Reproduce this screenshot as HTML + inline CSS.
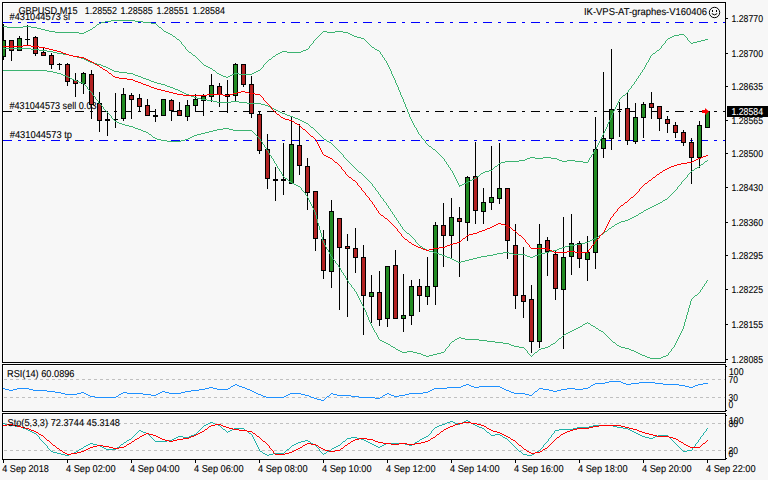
<!DOCTYPE html>
<html><head><meta charset="utf-8"><title>GBPUSD,M15</title>
<style>html,body{margin:0;padding:0;background:#f7f7f7;overflow:hidden;width:768px;height:480px}</style>
</head><body>
<svg width="768" height="480" viewBox="0 0 768 480" style="display:block">
<rect x="0" y="0" width="768" height="480" fill="#f7f7f7"/>
<g shape-rendering="crispEdges">
<rect x="3" y="3" width="722" height="359" fill="#ffffff"/>
<rect x="4" y="4" width="721" height="358" fill="#f7f7f7"/>
<rect x="3" y="365" width="722" height="46" fill="#ffffff"/>
<rect x="4" y="366" width="721" height="45" fill="#f7f7f7"/>
<rect x="3" y="414" width="722" height="45" fill="#ffffff"/>
<rect x="4" y="415" width="721" height="44" fill="#f7f7f7"/>
</g>
<g shape-rendering="crispEdges" stroke="#c0c0c0" stroke-width="1" stroke-dasharray="3 3">
<line x1="4" y1="379.5" x2="725" y2="379.5"/>
<line x1="4" y1="397.5" x2="725" y2="397.5"/>
<line x1="4" y1="423.5" x2="725" y2="423.5"/>
<line x1="4" y1="450.5" x2="725" y2="450.5"/>
</g>
<text x="18.4" y="14" font-size="10" fill="#000" stroke="#000" stroke-width="0.1" font-family="&#39;Liberation Sans&#39;, sans-serif" text-rendering="geometricPrecision" textLength="59.1" lengthAdjust="spacingAndGlyphs">GBPUSD,M15</text>
<text x="84.7" y="14" font-size="10" fill="#000" stroke="#000" stroke-width="0.1" font-family="&#39;Liberation Sans&#39;, sans-serif" text-rendering="geometricPrecision" textLength="32.4" lengthAdjust="spacingAndGlyphs">1.28552</text>
<text x="120.4" y="14" font-size="10" fill="#000" stroke="#000" stroke-width="0.1" font-family="&#39;Liberation Sans&#39;, sans-serif" text-rendering="geometricPrecision" textLength="32.4" lengthAdjust="spacingAndGlyphs">1.28585</text>
<text x="156.4" y="14" font-size="10" fill="#000" stroke="#000" stroke-width="0.1" font-family="&#39;Liberation Sans&#39;, sans-serif" text-rendering="geometricPrecision" textLength="32.4" lengthAdjust="spacingAndGlyphs">1.28551</text>
<text x="192.6" y="14" font-size="10" fill="#000" stroke="#000" stroke-width="0.1" font-family="&#39;Liberation Sans&#39;, sans-serif" text-rendering="geometricPrecision" textLength="32.4" lengthAdjust="spacingAndGlyphs">1.28584</text>
<text x="584" y="15" font-size="10" fill="#000" stroke="#000" stroke-width="0.1" font-family="&#39;Liberation Sans&#39;, sans-serif" text-rendering="geometricPrecision" textLength="123" lengthAdjust="spacingAndGlyphs">IK-VPS-AT-graphes-V160406</text>
<text x="9.5" y="20" font-size="10" fill="#000" stroke="#000" stroke-width="0.1" font-family="&#39;Liberation Sans&#39;, sans-serif" text-rendering="geometricPrecision" textLength="60.5" lengthAdjust="spacingAndGlyphs">#431044573 sl</text>
<text x="9.5" y="109" font-size="10" fill="#000" stroke="#000" stroke-width="0.1" font-family="&#39;Liberation Sans&#39;, sans-serif" text-rendering="geometricPrecision" textLength="87" lengthAdjust="spacingAndGlyphs">#431044573 sell 0.03</text>
<text x="9.75" y="138" font-size="10" fill="#000" stroke="#000" stroke-width="0.1" font-family="&#39;Liberation Sans&#39;, sans-serif" text-rendering="geometricPrecision" textLength="62.2" lengthAdjust="spacingAndGlyphs">#431044573 tp</text>
<g shape-rendering="crispEdges" stroke-width="1" stroke-dasharray="9 6 3 6" fill="none">
<line x1="3" y1="22.5" x2="725" y2="22.5" stroke="#0000ff"/>
<line x1="3" y1="111.5" x2="725" y2="111.5" stroke="#000000"/>
<line x1="3" y1="140.5" x2="725" y2="140.5" stroke="#0000ff"/>
</g>
<defs><clipPath id="cm"><rect x="3" y="3" width="722" height="359"/></clipPath><clipPath id="cr"><rect x="3" y="365" width="722" height="46"/></clipPath><clipPath id="cs"><rect x="3" y="414" width="722" height="45"/></clipPath></defs>
<g shape-rendering="crispEdges" clip-path="url(#cm)">
<rect x="3" y="24" width="1" height="36" fill="#000"/>
<rect x="1" y="40" width="5" height="17" fill="#000"/>
<rect x="2" y="41" width="3" height="15" fill="#228b22"/>
<rect x="11" y="40" width="1" height="21" fill="#000"/>
<rect x="9" y="40" width="5" height="11" fill="#000"/>
<rect x="10" y="41" width="3" height="9" fill="#b22222"/>
<rect x="19" y="36" width="1" height="15" fill="#000"/>
<rect x="17" y="38" width="5" height="13" fill="#000"/>
<rect x="18" y="39" width="3" height="11" fill="#228b22"/>
<rect x="27" y="25" width="1" height="21" fill="#000"/>
<rect x="25" y="39" width="5" height="1" fill="#000"/>
<rect x="35" y="36" width="1" height="20" fill="#000"/>
<rect x="33" y="37" width="5" height="17" fill="#000"/>
<rect x="34" y="38" width="3" height="15" fill="#b22222"/>
<rect x="43" y="48" width="1" height="8" fill="#000"/>
<rect x="41" y="52" width="5" height="4" fill="#000"/>
<rect x="42" y="53" width="3" height="2" fill="#b22222"/>
<rect x="51" y="53" width="1" height="16" fill="#000"/>
<rect x="49" y="55" width="5" height="10" fill="#000"/>
<rect x="50" y="56" width="3" height="8" fill="#b22222"/>
<rect x="59" y="63" width="1" height="7" fill="#000"/>
<rect x="57" y="64" width="5" height="1" fill="#000"/>
<rect x="67" y="63" width="1" height="23" fill="#000"/>
<rect x="65" y="64" width="5" height="18" fill="#000"/>
<rect x="66" y="65" width="3" height="16" fill="#b22222"/>
<rect x="75" y="73" width="1" height="24" fill="#000"/>
<rect x="73" y="80" width="5" height="4" fill="#000"/>
<rect x="74" y="81" width="3" height="2" fill="#b22222"/>
<rect x="83" y="72" width="1" height="22" fill="#000"/>
<rect x="81" y="73" width="5" height="11" fill="#000"/>
<rect x="82" y="74" width="3" height="9" fill="#228b22"/>
<rect x="91" y="70" width="1" height="49" fill="#000"/>
<rect x="89" y="74" width="5" height="31" fill="#000"/>
<rect x="90" y="75" width="3" height="29" fill="#b22222"/>
<rect x="99" y="92" width="1" height="40" fill="#000"/>
<rect x="97" y="103" width="5" height="18" fill="#000"/>
<rect x="98" y="104" width="3" height="16" fill="#b22222"/>
<rect x="107" y="111" width="1" height="25" fill="#000"/>
<rect x="105" y="119" width="5" height="2" fill="#000"/>
<rect x="115" y="93" width="1" height="35" fill="#000"/>
<rect x="113" y="119" width="5" height="1" fill="#000"/>
<rect x="123" y="88" width="1" height="33" fill="#000"/>
<rect x="121" y="94" width="5" height="25" fill="#000"/>
<rect x="122" y="95" width="3" height="23" fill="#228b22"/>
<rect x="131" y="93" width="1" height="26" fill="#000"/>
<rect x="129" y="95" width="5" height="5" fill="#000"/>
<rect x="130" y="96" width="3" height="3" fill="#b22222"/>
<rect x="139" y="94" width="1" height="18" fill="#000"/>
<rect x="137" y="98" width="5" height="9" fill="#000"/>
<rect x="138" y="99" width="3" height="7" fill="#b22222"/>
<rect x="147" y="99" width="1" height="17" fill="#000"/>
<rect x="145" y="105" width="5" height="11" fill="#000"/>
<rect x="146" y="106" width="3" height="9" fill="#b22222"/>
<rect x="155" y="109" width="1" height="13" fill="#000"/>
<rect x="153" y="115" width="5" height="2" fill="#000"/>
<rect x="163" y="99" width="1" height="17" fill="#000"/>
<rect x="161" y="99" width="5" height="17" fill="#000"/>
<rect x="162" y="100" width="3" height="15" fill="#228b22"/>
<rect x="171" y="99" width="1" height="22" fill="#000"/>
<rect x="169" y="100" width="5" height="11" fill="#000"/>
<rect x="170" y="101" width="3" height="9" fill="#b22222"/>
<rect x="179" y="102" width="1" height="14" fill="#000"/>
<rect x="177" y="110" width="5" height="6" fill="#000"/>
<rect x="178" y="111" width="3" height="4" fill="#b22222"/>
<rect x="187" y="100" width="1" height="21" fill="#000"/>
<rect x="185" y="105" width="5" height="12" fill="#000"/>
<rect x="186" y="106" width="3" height="10" fill="#228b22"/>
<rect x="195" y="94" width="1" height="18" fill="#000"/>
<rect x="193" y="99" width="5" height="7" fill="#000"/>
<rect x="194" y="100" width="3" height="5" fill="#228b22"/>
<rect x="203" y="94" width="1" height="22" fill="#000"/>
<rect x="201" y="96" width="5" height="5" fill="#000"/>
<rect x="202" y="97" width="3" height="3" fill="#228b22"/>
<rect x="211" y="74" width="1" height="28" fill="#000"/>
<rect x="209" y="85" width="5" height="12" fill="#000"/>
<rect x="210" y="86" width="3" height="10" fill="#228b22"/>
<rect x="219" y="83" width="1" height="24" fill="#000"/>
<rect x="217" y="86" width="5" height="9" fill="#000"/>
<rect x="218" y="87" width="3" height="7" fill="#b22222"/>
<rect x="227" y="80" width="1" height="33" fill="#000"/>
<rect x="225" y="94" width="5" height="3" fill="#000"/>
<rect x="226" y="95" width="3" height="1" fill="#b22222"/>
<rect x="235" y="63" width="1" height="38" fill="#000"/>
<rect x="233" y="64" width="5" height="32" fill="#000"/>
<rect x="234" y="65" width="3" height="30" fill="#228b22"/>
<rect x="243" y="64" width="1" height="23" fill="#000"/>
<rect x="241" y="64" width="5" height="21" fill="#000"/>
<rect x="242" y="65" width="3" height="19" fill="#b22222"/>
<rect x="251" y="76" width="1" height="42" fill="#000"/>
<rect x="249" y="84" width="5" height="30" fill="#000"/>
<rect x="250" y="85" width="3" height="28" fill="#b22222"/>
<rect x="259" y="111" width="1" height="43" fill="#000"/>
<rect x="257" y="114" width="5" height="37" fill="#000"/>
<rect x="258" y="115" width="3" height="35" fill="#b22222"/>
<rect x="267" y="134" width="1" height="55" fill="#000"/>
<rect x="265" y="149" width="5" height="30" fill="#000"/>
<rect x="266" y="150" width="3" height="28" fill="#b22222"/>
<rect x="275" y="167" width="1" height="34" fill="#000"/>
<rect x="273" y="179" width="5" height="2" fill="#000"/>
<rect x="283" y="143" width="1" height="52" fill="#000"/>
<rect x="281" y="179" width="5" height="2" fill="#000"/>
<rect x="291" y="117" width="1" height="67" fill="#000"/>
<rect x="289" y="144" width="5" height="40" fill="#000"/>
<rect x="290" y="145" width="3" height="38" fill="#228b22"/>
<rect x="299" y="124" width="1" height="51" fill="#000"/>
<rect x="297" y="145" width="5" height="21" fill="#000"/>
<rect x="298" y="146" width="3" height="19" fill="#b22222"/>
<rect x="307" y="158" width="1" height="52" fill="#000"/>
<rect x="305" y="166" width="5" height="27" fill="#000"/>
<rect x="306" y="167" width="3" height="25" fill="#b22222"/>
<rect x="315" y="191" width="1" height="60" fill="#000"/>
<rect x="313" y="191" width="5" height="48" fill="#000"/>
<rect x="314" y="192" width="3" height="46" fill="#b22222"/>
<rect x="323" y="230" width="1" height="49" fill="#000"/>
<rect x="321" y="239" width="5" height="32" fill="#000"/>
<rect x="322" y="240" width="3" height="30" fill="#b22222"/>
<rect x="331" y="200" width="1" height="88" fill="#000"/>
<rect x="329" y="211" width="5" height="61" fill="#000"/>
<rect x="330" y="212" width="3" height="59" fill="#228b22"/>
<rect x="339" y="218" width="1" height="92" fill="#000"/>
<rect x="337" y="218" width="5" height="30" fill="#000"/>
<rect x="338" y="219" width="3" height="28" fill="#b22222"/>
<rect x="347" y="234" width="1" height="83" fill="#000"/>
<rect x="345" y="246" width="5" height="3" fill="#000"/>
<rect x="346" y="247" width="3" height="1" fill="#b22222"/>
<rect x="355" y="228" width="1" height="45" fill="#000"/>
<rect x="353" y="248" width="5" height="10" fill="#000"/>
<rect x="354" y="249" width="3" height="8" fill="#b22222"/>
<rect x="363" y="245" width="1" height="90" fill="#000"/>
<rect x="361" y="257" width="5" height="39" fill="#000"/>
<rect x="362" y="258" width="3" height="37" fill="#b22222"/>
<rect x="371" y="275" width="1" height="48" fill="#000"/>
<rect x="369" y="292" width="5" height="5" fill="#000"/>
<rect x="370" y="293" width="3" height="3" fill="#228b22"/>
<rect x="379" y="271" width="1" height="55" fill="#000"/>
<rect x="377" y="292" width="5" height="28" fill="#000"/>
<rect x="378" y="293" width="3" height="26" fill="#b22222"/>
<rect x="387" y="266" width="1" height="61" fill="#000"/>
<rect x="385" y="266" width="5" height="53" fill="#000"/>
<rect x="386" y="267" width="3" height="51" fill="#228b22"/>
<rect x="395" y="250" width="1" height="69" fill="#000"/>
<rect x="393" y="265" width="5" height="54" fill="#000"/>
<rect x="394" y="266" width="3" height="52" fill="#b22222"/>
<rect x="403" y="274" width="1" height="58" fill="#000"/>
<rect x="401" y="315" width="5" height="4" fill="#000"/>
<rect x="402" y="316" width="3" height="2" fill="#228b22"/>
<rect x="411" y="280" width="1" height="45" fill="#000"/>
<rect x="409" y="286" width="5" height="30" fill="#000"/>
<rect x="410" y="287" width="3" height="28" fill="#228b22"/>
<rect x="419" y="279" width="1" height="33" fill="#000"/>
<rect x="417" y="286" width="5" height="10" fill="#000"/>
<rect x="418" y="287" width="3" height="8" fill="#b22222"/>
<rect x="427" y="257" width="1" height="48" fill="#000"/>
<rect x="425" y="286" width="5" height="11" fill="#000"/>
<rect x="426" y="287" width="3" height="9" fill="#228b22"/>
<rect x="435" y="222" width="1" height="83" fill="#000"/>
<rect x="433" y="225" width="5" height="62" fill="#000"/>
<rect x="434" y="226" width="3" height="60" fill="#228b22"/>
<rect x="443" y="203" width="1" height="64" fill="#000"/>
<rect x="441" y="225" width="5" height="11" fill="#000"/>
<rect x="442" y="226" width="3" height="9" fill="#b22222"/>
<rect x="451" y="198" width="1" height="61" fill="#000"/>
<rect x="449" y="217" width="5" height="19" fill="#000"/>
<rect x="450" y="218" width="3" height="17" fill="#228b22"/>
<rect x="459" y="207" width="1" height="70" fill="#000"/>
<rect x="457" y="218" width="5" height="4" fill="#000"/>
<rect x="458" y="219" width="3" height="2" fill="#b22222"/>
<rect x="467" y="176" width="1" height="65" fill="#000"/>
<rect x="465" y="177" width="5" height="46" fill="#000"/>
<rect x="466" y="178" width="3" height="44" fill="#228b22"/>
<rect x="475" y="142" width="1" height="82" fill="#000"/>
<rect x="473" y="176" width="5" height="35" fill="#000"/>
<rect x="474" y="177" width="3" height="33" fill="#b22222"/>
<rect x="483" y="188" width="1" height="36" fill="#000"/>
<rect x="481" y="202" width="5" height="10" fill="#000"/>
<rect x="482" y="203" width="3" height="8" fill="#228b22"/>
<rect x="491" y="146" width="1" height="64" fill="#000"/>
<rect x="489" y="197" width="5" height="6" fill="#000"/>
<rect x="490" y="198" width="3" height="4" fill="#228b22"/>
<rect x="499" y="143" width="1" height="61" fill="#000"/>
<rect x="497" y="188" width="5" height="11" fill="#000"/>
<rect x="498" y="189" width="3" height="9" fill="#228b22"/>
<rect x="507" y="188" width="1" height="71" fill="#000"/>
<rect x="505" y="188" width="5" height="53" fill="#000"/>
<rect x="506" y="189" width="3" height="51" fill="#b22222"/>
<rect x="515" y="224" width="1" height="85" fill="#000"/>
<rect x="513" y="245" width="5" height="51" fill="#000"/>
<rect x="514" y="246" width="3" height="49" fill="#b22222"/>
<rect x="523" y="247" width="1" height="71" fill="#000"/>
<rect x="521" y="295" width="5" height="7" fill="#000"/>
<rect x="522" y="296" width="3" height="5" fill="#b22222"/>
<rect x="531" y="285" width="1" height="68" fill="#000"/>
<rect x="529" y="299" width="5" height="43" fill="#000"/>
<rect x="530" y="300" width="3" height="41" fill="#b22222"/>
<rect x="539" y="224" width="1" height="124" fill="#000"/>
<rect x="537" y="244" width="5" height="98" fill="#000"/>
<rect x="538" y="245" width="3" height="96" fill="#228b22"/>
<rect x="547" y="237" width="1" height="39" fill="#000"/>
<rect x="545" y="240" width="5" height="12" fill="#000"/>
<rect x="546" y="241" width="3" height="10" fill="#b22222"/>
<rect x="555" y="250" width="1" height="50" fill="#000"/>
<rect x="553" y="254" width="5" height="35" fill="#000"/>
<rect x="554" y="255" width="3" height="33" fill="#b22222"/>
<rect x="563" y="217" width="1" height="132" fill="#000"/>
<rect x="561" y="257" width="5" height="33" fill="#000"/>
<rect x="562" y="258" width="3" height="31" fill="#228b22"/>
<rect x="571" y="214" width="1" height="61" fill="#000"/>
<rect x="569" y="243" width="5" height="14" fill="#000"/>
<rect x="570" y="244" width="3" height="12" fill="#228b22"/>
<rect x="579" y="241" width="1" height="27" fill="#000"/>
<rect x="577" y="243" width="5" height="16" fill="#000"/>
<rect x="578" y="244" width="3" height="14" fill="#b22222"/>
<rect x="587" y="236" width="1" height="45" fill="#000"/>
<rect x="585" y="252" width="5" height="8" fill="#000"/>
<rect x="586" y="253" width="3" height="6" fill="#228b22"/>
<rect x="595" y="117" width="1" height="152" fill="#000"/>
<rect x="593" y="149" width="5" height="104" fill="#000"/>
<rect x="594" y="150" width="3" height="102" fill="#228b22"/>
<rect x="603" y="72" width="1" height="86" fill="#000"/>
<rect x="601" y="138" width="5" height="11" fill="#000"/>
<rect x="602" y="139" width="3" height="9" fill="#228b22"/>
<rect x="611" y="49" width="1" height="101" fill="#000"/>
<rect x="609" y="109" width="5" height="30" fill="#000"/>
<rect x="610" y="110" width="3" height="28" fill="#228b22"/>
<rect x="619" y="102" width="1" height="35" fill="#000"/>
<rect x="617" y="109" width="5" height="1" fill="#000"/>
<rect x="627" y="93" width="1" height="52" fill="#000"/>
<rect x="625" y="108" width="5" height="33" fill="#000"/>
<rect x="626" y="109" width="3" height="31" fill="#b22222"/>
<rect x="635" y="103" width="1" height="41" fill="#000"/>
<rect x="633" y="117" width="5" height="25" fill="#000"/>
<rect x="634" y="118" width="3" height="23" fill="#228b22"/>
<rect x="643" y="102" width="1" height="36" fill="#000"/>
<rect x="641" y="104" width="5" height="14" fill="#000"/>
<rect x="642" y="105" width="3" height="12" fill="#228b22"/>
<rect x="651" y="92" width="1" height="27" fill="#000"/>
<rect x="649" y="103" width="5" height="5" fill="#000"/>
<rect x="650" y="104" width="3" height="3" fill="#b22222"/>
<rect x="659" y="106" width="1" height="25" fill="#000"/>
<rect x="657" y="106" width="5" height="13" fill="#000"/>
<rect x="658" y="107" width="3" height="11" fill="#b22222"/>
<rect x="667" y="116" width="1" height="17" fill="#000"/>
<rect x="665" y="119" width="5" height="5" fill="#000"/>
<rect x="666" y="120" width="3" height="3" fill="#b22222"/>
<rect x="675" y="122" width="1" height="16" fill="#000"/>
<rect x="673" y="125" width="5" height="8" fill="#000"/>
<rect x="674" y="126" width="3" height="6" fill="#b22222"/>
<rect x="683" y="130" width="1" height="16" fill="#000"/>
<rect x="681" y="132" width="5" height="11" fill="#000"/>
<rect x="682" y="133" width="3" height="9" fill="#b22222"/>
<rect x="691" y="138" width="1" height="46" fill="#000"/>
<rect x="689" y="142" width="5" height="16" fill="#000"/>
<rect x="690" y="143" width="3" height="14" fill="#b22222"/>
<rect x="699" y="121" width="1" height="47" fill="#000"/>
<rect x="697" y="125" width="5" height="33" fill="#000"/>
<rect x="698" y="126" width="3" height="31" fill="#228b22"/>
<rect x="707" y="111" width="1" height="17" fill="#000"/>
<rect x="705" y="111" width="5" height="17" fill="#000"/>
<rect x="706" y="112" width="3" height="15" fill="#228b22"/>
</g>
<g shape-rendering="crispEdges">
<g clip-path="url(#cm)">
<path d="M111 20h24v1h-24zM105 21h6v1h-6zM135 21h8v1h-8zM101 22h4v1h-4zM143 22h8v1h-8zM99 23h2v1h-2zM151 23h5v1h-5zM97 24h2v1h-2zM156 24h1v1h-1zM96 25h1v1h-1zM157 25h1v1h-1zM3 26h4v1h-4zM23 26h8v1h-8zM95 26h1v1h-1zM158 26h1v1h-1zM7 27h16v1h-16zM31 27h6v1h-6zM93 27h2v1h-2zM159 27h2v1h-2zM37 28h4v1h-4zM92 28h1v1h-1zM161 28h1v1h-1zM41 29h4v1h-4zM90 29h2v1h-2zM162 29h1v1h-1zM45 30h4v1h-4zM88 30h2v1h-2zM163 30h1v1h-1zM49 31h6v1h-6zM86 31h2v1h-2zM164 31h2v1h-2zM323 31h4v1h-4zM335 31h8v1h-8zM55 32h24v1h-24zM84 32h2v1h-2zM166 32h2v1h-2zM322 32h1v1h-1zM327 32h8v1h-8zM343 32h5v1h-5zM79 33h5v1h-5zM168 33h2v1h-2zM321 33h1v1h-1zM348 33h2v1h-2zM170 34h2v1h-2zM320 34h1v1h-1zM350 34h2v1h-2zM679 34h5v1h-5zM172 35h1v1h-1zM319 35h1v1h-1zM352 35h2v1h-2zM674 35h5v1h-5zM684 35h1v1h-1zM173 36h2v1h-2zM318 36h1v1h-1zM354 36h3v1h-3zM672 36h2v1h-2zM685 36h1v1h-1zM175 37h1v1h-1zM317 37h1v1h-1zM357 37h4v1h-4zM670 37h2v1h-2zM686 37h1v1h-1zM176 38h1v1h-1zM316 38h1v1h-1zM361 38h3v1h-3zM668 38h2v1h-2zM687 38h1v1h-1zM177 39h2v1h-2zM315 39h1v1h-1zM364 39h1v1h-1zM667 39h1v1h-1zM687 39h1v1h-1zM705 39h3v1h-3zM179 40h1v1h-1zM314 40h1v1h-1zM365 40h1v1h-1zM666 40h1v1h-1zM688 40h1v1h-1zM701 40h4v1h-4zM180 41h1v1h-1zM313 41h1v1h-1zM366 41h1v1h-1zM665 41h1v1h-1zM689 41h1v1h-1zM697 41h4v1h-4zM181 42h1v1h-1zM313 42h1v1h-1zM367 42h1v1h-1zM665 42h1v1h-1zM690 42h1v1h-1zM693 42h4v1h-4zM181 43h1v1h-1zM312 43h1v1h-1zM368 43h1v1h-1zM664 43h1v1h-1zM691 43h2v1h-2zM182 44h1v1h-1zM311 44h1v1h-1zM369 44h1v1h-1zM663 44h1v1h-1zM183 45h1v1h-1zM310 45h1v1h-1zM370 45h1v1h-1zM662 45h1v1h-1zM184 46h1v1h-1zM309 46h1v1h-1zM371 46h1v1h-1zM661 46h1v1h-1zM185 47h1v1h-1zM309 47h1v1h-1zM372 47h2v1h-2zM661 47h1v1h-1zM185 48h1v1h-1zM308 48h1v1h-1zM374 48h1v1h-1zM660 48h1v1h-1zM186 49h1v1h-1zM306 49h2v1h-2zM375 49h2v1h-2zM659 49h1v1h-1zM187 50h1v1h-1zM303 50h3v1h-3zM377 50h2v1h-2zM657 50h2v1h-2zM188 51h1v1h-1zM282 51h5v1h-5zM301 51h2v1h-2zM379 51h1v1h-1zM656 51h1v1h-1zM189 52h2v1h-2zM280 52h2v1h-2zM287 52h14v1h-14zM380 52h1v1h-1zM655 52h1v1h-1zM191 53h1v1h-1zM278 53h2v1h-2zM380 53h1v1h-1zM653 53h2v1h-2zM192 54h1v1h-1zM276 54h2v1h-2zM381 54h1v1h-1zM652 54h1v1h-1zM193 55h2v1h-2zM275 55h1v1h-1zM382 55h1v1h-1zM651 55h1v1h-1zM195 56h1v1h-1zM273 56h2v1h-2zM382 56h1v1h-1zM650 56h1v1h-1zM196 57h1v1h-1zM272 57h1v1h-1zM383 57h1v1h-1zM650 57h1v1h-1zM197 58h1v1h-1zM271 58h1v1h-1zM384 58h1v1h-1zM649 58h1v1h-1zM198 59h1v1h-1zM269 59h2v1h-2zM384 59h1v1h-1zM649 59h1v1h-1zM199 60h1v1h-1zM268 60h1v1h-1zM385 60h1v1h-1zM648 60h1v1h-1zM200 61h1v1h-1zM267 61h1v1h-1zM386 61h1v1h-1zM648 61h1v1h-1zM201 62h1v1h-1zM266 62h1v1h-1zM386 62h1v1h-1zM647 62h1v1h-1zM202 63h1v1h-1zM265 63h1v1h-1zM387 63h1v1h-1zM646 63h1v1h-1zM203 64h1v1h-1zM264 64h1v1h-1zM387 64h1v1h-1zM646 64h1v1h-1zM204 65h2v1h-2zM263 65h1v1h-1zM388 65h1v1h-1zM645 65h1v1h-1zM206 66h2v1h-2zM263 66h1v1h-1zM388 66h1v1h-1zM645 66h1v1h-1zM208 67h2v1h-2zM262 67h1v1h-1zM389 67h1v1h-1zM644 67h1v1h-1zM210 68h2v1h-2zM261 68h1v1h-1zM389 68h1v1h-1zM644 68h1v1h-1zM212 69h1v1h-1zM260 69h1v1h-1zM390 69h1v1h-1zM643 69h1v1h-1zM213 70h2v1h-2zM258 70h2v1h-2zM390 70h1v1h-1zM642 70h1v1h-1zM215 71h1v1h-1zM256 71h2v1h-2zM391 71h1v1h-1zM642 71h1v1h-1zM216 72h1v1h-1zM254 72h2v1h-2zM391 72h1v1h-1zM641 72h1v1h-1zM217 73h2v1h-2zM234 73h5v1h-5zM252 73h2v1h-2zM391 73h1v1h-1zM640 73h1v1h-1zM219 74h2v1h-2zM232 74h2v1h-2zM239 74h13v1h-13zM392 74h1v1h-1zM640 74h1v1h-1zM221 75h2v1h-2zM230 75h2v1h-2zM392 75h1v1h-1zM639 75h1v1h-1zM223 76h3v1h-3zM228 76h2v1h-2zM393 76h1v1h-1zM638 76h1v1h-1zM226 77h2v1h-2zM393 77h1v1h-1zM638 77h1v1h-1zM394 78h1v1h-1zM637 78h1v1h-1zM394 79h1v1h-1zM636 79h1v1h-1zM395 80h1v1h-1zM636 80h1v1h-1zM395 81h1v1h-1zM635 81h1v1h-1zM395 82h1v1h-1zM634 82h1v1h-1zM396 83h1v1h-1zM634 83h1v1h-1zM396 84h1v1h-1zM633 84h1v1h-1zM397 85h1v1h-1zM632 85h1v1h-1zM397 86h1v1h-1zM631 86h1v1h-1zM398 87h1v1h-1zM631 87h1v1h-1zM398 88h1v1h-1zM630 88h1v1h-1zM398 89h1v1h-1zM629 89h1v1h-1zM399 90h1v1h-1zM628 90h1v1h-1zM399 91h1v1h-1zM628 91h1v1h-1zM400 92h1v1h-1zM627 92h1v1h-1zM400 93h1v1h-1zM626 93h1v1h-1zM400 94h1v1h-1zM625 94h1v1h-1zM401 95h1v1h-1zM623 95h2v1h-2zM401 96h1v1h-1zM622 96h1v1h-1zM402 97h1v1h-1zM621 97h1v1h-1zM402 98h1v1h-1zM620 98h1v1h-1zM403 99h1v1h-1zM619 99h1v1h-1zM403 100h1v1h-1zM619 100h1v1h-1zM403 101h1v1h-1zM618 101h1v1h-1zM404 102h1v1h-1zM618 102h1v1h-1zM404 103h1v1h-1zM617 103h1v1h-1zM405 104h1v1h-1zM617 104h1v1h-1zM405 105h1v1h-1zM616 105h1v1h-1zM405 106h1v1h-1zM616 106h1v1h-1zM406 107h1v1h-1zM615 107h1v1h-1zM406 108h1v1h-1zM615 108h1v1h-1zM407 109h1v1h-1zM614 109h1v1h-1zM407 110h1v1h-1zM614 110h1v1h-1zM407 111h1v1h-1zM613 111h1v1h-1zM408 112h1v1h-1zM613 112h1v1h-1zM408 113h1v1h-1zM612 113h1v1h-1zM409 114h1v1h-1zM612 114h1v1h-1zM409 115h1v1h-1zM611 115h1v1h-1zM409 116h1v1h-1zM611 116h1v1h-1zM410 117h1v1h-1zM611 117h1v1h-1zM410 118h1v1h-1zM610 118h1v1h-1zM411 119h1v1h-1zM610 119h1v1h-1zM411 120h1v1h-1zM609 120h1v1h-1zM412 121h1v1h-1zM609 121h1v1h-1zM412 122h1v1h-1zM608 122h1v1h-1zM413 123h1v1h-1zM608 123h1v1h-1zM413 124h1v1h-1zM607 124h1v1h-1zM414 125h1v1h-1zM607 125h1v1h-1zM414 126h1v1h-1zM607 126h1v1h-1zM415 127h1v1h-1zM606 127h1v1h-1zM416 128h1v1h-1zM606 128h1v1h-1zM416 129h1v1h-1zM605 129h1v1h-1zM417 130h1v1h-1zM605 130h1v1h-1zM417 131h1v1h-1zM604 131h1v1h-1zM418 132h1v1h-1zM604 132h1v1h-1zM418 133h1v1h-1zM603 133h1v1h-1zM419 134h1v1h-1zM603 134h1v1h-1zM420 135h1v1h-1zM602 135h1v1h-1zM421 136h1v1h-1zM602 136h1v1h-1zM421 137h1v1h-1zM601 137h1v1h-1zM422 138h1v1h-1zM601 138h1v1h-1zM423 139h1v1h-1zM600 139h1v1h-1zM424 140h1v1h-1zM600 140h1v1h-1zM425 141h1v1h-1zM599 141h1v1h-1zM425 142h1v1h-1zM599 142h1v1h-1zM426 143h1v1h-1zM598 143h1v1h-1zM427 144h1v1h-1zM598 144h1v1h-1zM428 145h1v1h-1zM597 145h1v1h-1zM429 146h2v1h-2zM597 146h1v1h-1zM431 147h1v1h-1zM596 147h1v1h-1zM432 148h1v1h-1zM596 148h1v1h-1zM433 149h2v1h-2zM595 149h1v1h-1zM435 150h1v1h-1zM594 150h1v1h-1zM436 151h1v1h-1zM594 151h1v1h-1zM437 152h1v1h-1zM593 152h1v1h-1zM438 153h1v1h-1zM593 153h1v1h-1zM439 154h1v1h-1zM592 154h1v1h-1zM440 155h1v1h-1zM591 155h1v1h-1zM441 156h1v1h-1zM591 156h1v1h-1zM442 157h1v1h-1zM530 157h5v1h-5zM543 157h8v1h-8zM590 157h1v1h-1zM443 158h1v1h-1zM527 158h3v1h-3zM535 158h8v1h-8zM551 158h6v1h-6zM589 158h1v1h-1zM444 159h1v1h-1zM525 159h2v1h-2zM557 159h2v1h-2zM589 159h1v1h-1zM444 160h1v1h-1zM519 160h6v1h-6zM559 160h3v1h-3zM567 160h8v1h-8zM588 160h1v1h-1zM445 161h1v1h-1zM505 161h14v1h-14zM562 161h5v1h-5zM575 161h8v1h-8zM588 161h1v1h-1zM446 162h1v1h-1zM501 162h4v1h-4zM583 162h5v1h-5zM446 163h1v1h-1zM499 163h2v1h-2zM447 164h1v1h-1zM498 164h1v1h-1zM448 165h1v1h-1zM497 165h1v1h-1zM448 166h1v1h-1zM495 166h2v1h-2zM449 167h1v1h-1zM494 167h1v1h-1zM450 168h1v1h-1zM493 168h1v1h-1zM450 169h1v1h-1zM492 169h1v1h-1zM451 170h1v1h-1zM489 170h3v1h-3zM452 171h1v1h-1zM485 171h4v1h-4zM452 172h1v1h-1zM483 172h2v1h-2zM453 173h1v1h-1zM481 173h2v1h-2zM453 174h1v1h-1zM480 174h1v1h-1zM454 175h1v1h-1zM479 175h1v1h-1zM454 176h1v1h-1zM477 176h2v1h-2zM455 177h1v1h-1zM476 177h1v1h-1zM455 178h1v1h-1zM474 178h2v1h-2zM456 179h1v1h-1zM472 179h2v1h-2zM456 180h1v1h-1zM470 180h2v1h-2zM457 181h1v1h-1zM468 181h2v1h-2zM457 182h1v1h-1zM466 182h2v1h-2zM458 183h1v1h-1zM464 183h2v1h-2zM458 184h1v1h-1zM462 184h2v1h-2zM459 185h3v1h-3zM459 186h1v1h-1z" fill="#3cb371"/>
<path d="M3 48h28v1h-28zM31 49h8v1h-8zM39 50h8v1h-8zM47 51h6v1h-6zM53 52h4v1h-4zM57 53h6v1h-6zM63 54h6v1h-6zM69 55h4v1h-4zM73 56h4v1h-4zM77 57h4v1h-4zM81 58h3v1h-3zM84 59h2v1h-2zM86 60h2v1h-2zM88 61h2v1h-2zM90 62h3v1h-3zM93 63h4v1h-4zM97 64h4v1h-4zM101 65h2v1h-2zM103 66h3v1h-3zM106 67h2v1h-2zM108 68h2v1h-2zM110 69h2v1h-2zM112 70h2v1h-2zM114 71h5v1h-5zM119 72h8v1h-8zM127 73h6v1h-6zM133 74h2v1h-2zM135 75h3v1h-3zM138 76h3v1h-3zM141 77h2v1h-2zM143 78h3v1h-3zM146 79h3v1h-3zM149 80h2v1h-2zM151 81h3v1h-3zM154 82h3v1h-3zM157 83h4v1h-4zM161 84h4v1h-4zM165 85h2v1h-2zM167 86h3v1h-3zM170 87h3v1h-3zM173 88h2v1h-2zM175 89h3v1h-3zM178 90h2v1h-2zM180 91h2v1h-2zM182 92h2v1h-2zM184 93h2v1h-2zM186 94h3v1h-3zM189 95h2v1h-2zM191 96h3v1h-3zM194 97h3v1h-3zM197 98h4v1h-4zM201 99h6v1h-6zM207 100h6v1h-6zM213 101h4v1h-4zM231 101h8v1h-8zM217 102h14v1h-14zM239 102h8v1h-8zM247 103h14v1h-14zM261 104h4v1h-4zM265 105h3v1h-3zM268 106h2v1h-2zM270 107h2v1h-2zM272 108h2v1h-2zM274 109h2v1h-2zM276 110h2v1h-2zM278 111h2v1h-2zM280 112h2v1h-2zM282 113h3v1h-3zM285 114h2v1h-2zM287 115h3v1h-3zM290 116h3v1h-3zM293 117h2v1h-2zM295 118h3v1h-3zM298 119h2v1h-2zM300 120h2v1h-2zM302 121h2v1h-2zM304 122h2v1h-2zM306 123h2v1h-2zM308 124h1v1h-1zM309 125h1v1h-1zM310 126h1v1h-1zM311 127h2v1h-2zM313 128h1v1h-1zM314 129h1v1h-1zM315 130h1v1h-1zM316 131h1v1h-1zM317 132h1v1h-1zM318 133h1v1h-1zM319 134h1v1h-1zM320 135h1v1h-1zM321 136h1v1h-1zM322 137h1v1h-1zM323 138h1v1h-1zM324 139h2v1h-2zM326 140h1v1h-1zM327 141h2v1h-2zM329 142h2v1h-2zM331 143h1v1h-1zM332 144h1v1h-1zM333 145h1v1h-1zM334 146h1v1h-1zM335 147h1v1h-1zM336 148h1v1h-1zM337 149h1v1h-1zM338 150h1v1h-1zM339 151h1v1h-1zM340 152h1v1h-1zM341 153h1v1h-1zM342 154h1v1h-1zM343 155h1v1h-1zM343 156h1v1h-1zM344 157h1v1h-1zM345 158h1v1h-1zM346 159h1v1h-1zM347 160h1v1h-1zM707 160h1v1h-1zM348 161h1v1h-1zM705 161h2v1h-2zM349 162h1v1h-1zM704 162h1v1h-1zM350 163h1v1h-1zM703 163h1v1h-1zM351 164h1v1h-1zM701 164h2v1h-2zM352 165h1v1h-1zM700 165h1v1h-1zM353 166h1v1h-1zM699 166h1v1h-1zM354 167h1v1h-1zM697 167h2v1h-2zM355 168h1v1h-1zM695 168h2v1h-2zM356 169h1v1h-1zM694 169h1v1h-1zM357 170h1v1h-1zM692 170h2v1h-2zM358 171h1v1h-1zM691 171h1v1h-1zM359 172h2v1h-2zM690 172h1v1h-1zM361 173h1v1h-1zM689 173h1v1h-1zM362 174h1v1h-1zM688 174h1v1h-1zM363 175h1v1h-1zM687 175h1v1h-1zM364 176h1v1h-1zM687 176h1v1h-1zM365 177h1v1h-1zM686 177h1v1h-1zM366 178h1v1h-1zM685 178h1v1h-1zM367 179h1v1h-1zM684 179h1v1h-1zM368 180h1v1h-1zM683 180h1v1h-1zM369 181h1v1h-1zM682 181h1v1h-1zM370 182h1v1h-1zM681 182h1v1h-1zM371 183h1v1h-1zM681 183h1v1h-1zM372 184h1v1h-1zM680 184h1v1h-1zM372 185h1v1h-1zM679 185h1v1h-1zM373 186h1v1h-1zM678 186h1v1h-1zM374 187h1v1h-1zM677 187h1v1h-1zM375 188h1v1h-1zM677 188h1v1h-1zM375 189h1v1h-1zM676 189h1v1h-1zM376 190h1v1h-1zM675 190h1v1h-1zM377 191h1v1h-1zM674 191h1v1h-1zM378 192h1v1h-1zM673 192h1v1h-1zM378 193h1v1h-1zM672 193h1v1h-1zM379 194h1v1h-1zM671 194h1v1h-1zM380 195h1v1h-1zM670 195h1v1h-1zM380 196h1v1h-1zM669 196h1v1h-1zM381 197h1v1h-1zM668 197h1v1h-1zM382 198h1v1h-1zM667 198h1v1h-1zM383 199h1v1h-1zM665 199h2v1h-2zM383 200h1v1h-1zM663 200h2v1h-2zM384 201h1v1h-1zM662 201h1v1h-1zM385 202h1v1h-1zM660 202h2v1h-2zM386 203h1v1h-1zM658 203h2v1h-2zM386 204h1v1h-1zM656 204h2v1h-2zM387 205h1v1h-1zM654 205h2v1h-2zM388 206h1v1h-1zM652 206h2v1h-2zM388 207h1v1h-1zM650 207h2v1h-2zM389 208h1v1h-1zM648 208h2v1h-2zM390 209h1v1h-1zM646 209h2v1h-2zM390 210h1v1h-1zM644 210h2v1h-2zM391 211h1v1h-1zM643 211h1v1h-1zM392 212h1v1h-1zM641 212h2v1h-2zM392 213h1v1h-1zM639 213h2v1h-2zM393 214h1v1h-1zM638 214h1v1h-1zM394 215h1v1h-1zM636 215h2v1h-2zM394 216h1v1h-1zM634 216h2v1h-2zM395 217h1v1h-1zM632 217h2v1h-2zM396 218h1v1h-1zM630 218h2v1h-2zM396 219h1v1h-1zM628 219h2v1h-2zM397 220h1v1h-1zM625 220h3v1h-3zM398 221h1v1h-1zM621 221h4v1h-4zM398 222h1v1h-1zM619 222h2v1h-2zM399 223h1v1h-1zM617 223h2v1h-2zM400 224h1v1h-1zM615 224h2v1h-2zM400 225h1v1h-1zM614 225h1v1h-1zM401 226h1v1h-1zM612 226h2v1h-2zM402 227h1v1h-1zM611 227h1v1h-1zM402 228h1v1h-1zM609 228h2v1h-2zM403 229h1v1h-1zM608 229h1v1h-1zM404 230h1v1h-1zM607 230h1v1h-1zM405 231h1v1h-1zM605 231h2v1h-2zM406 232h1v1h-1zM604 232h1v1h-1zM407 233h2v1h-2zM603 233h1v1h-1zM409 234h1v1h-1zM601 234h2v1h-2zM410 235h1v1h-1zM599 235h2v1h-2zM411 236h1v1h-1zM598 236h1v1h-1zM412 237h1v1h-1zM596 237h2v1h-2zM413 238h1v1h-1zM594 238h2v1h-2zM414 239h1v1h-1zM592 239h2v1h-2zM415 240h1v1h-1zM590 240h2v1h-2zM415 241h1v1h-1zM588 241h2v1h-2zM416 242h1v1h-1zM585 242h3v1h-3zM417 243h1v1h-1zM581 243h4v1h-4zM418 244h1v1h-1zM575 244h6v1h-6zM419 245h1v1h-1zM569 245h6v1h-6zM420 246h2v1h-2zM565 246h4v1h-4zM422 247h1v1h-1zM562 247h3v1h-3zM423 248h2v1h-2zM559 248h3v1h-3zM425 249h2v1h-2zM557 249h2v1h-2zM427 250h2v1h-2zM553 250h4v1h-4zM429 251h4v1h-4zM549 251h4v1h-4zM433 252h4v1h-4zM503 252h6v1h-6zM545 252h4v1h-4zM437 253h2v1h-2zM497 253h6v1h-6zM509 253h4v1h-4zM541 253h4v1h-4zM439 254h3v1h-3zM493 254h4v1h-4zM513 254h12v1h-12zM538 254h3v1h-3zM442 255h3v1h-3zM487 255h6v1h-6zM525 255h2v1h-2zM535 255h3v1h-3zM445 256h2v1h-2zM481 256h6v1h-6zM527 256h3v1h-3zM533 256h2v1h-2zM447 257h3v1h-3zM477 257h4v1h-4zM530 257h3v1h-3zM450 258h2v1h-2zM473 258h4v1h-4zM452 259h2v1h-2zM469 259h4v1h-4zM454 260h2v1h-2zM465 260h4v1h-4zM456 261h2v1h-2zM461 261h4v1h-4zM458 262h3v1h-3z" fill="#3cb371"/>
<path d="M3 70h44v1h-44zM47 71h6v1h-6zM53 72h4v1h-4zM57 73h4v1h-4zM61 74h2v1h-2zM63 75h3v1h-3zM66 76h2v1h-2zM68 77h2v1h-2zM70 78h2v1h-2zM72 79h2v1h-2zM74 80h3v1h-3zM77 81h2v1h-2zM79 82h3v1h-3zM82 83h2v1h-2zM84 84h1v1h-1zM85 85h1v1h-1zM86 86h1v1h-1zM87 87h1v1h-1zM87 88h1v1h-1zM88 89h1v1h-1zM89 90h1v1h-1zM90 91h1v1h-1zM91 92h1v1h-1zM92 93h1v1h-1zM92 94h1v1h-1zM93 95h1v1h-1zM94 96h1v1h-1zM95 97h1v1h-1zM95 98h1v1h-1zM96 99h1v1h-1zM97 100h1v1h-1zM98 101h1v1h-1zM98 102h1v1h-1zM99 103h1v1h-1zM100 104h1v1h-1zM101 105h1v1h-1zM102 106h1v1h-1zM103 107h1v1h-1zM103 108h1v1h-1zM104 109h1v1h-1zM105 110h1v1h-1zM106 111h1v1h-1zM107 112h1v1h-1zM108 113h1v1h-1zM109 114h1v1h-1zM110 115h1v1h-1zM111 116h1v1h-1zM111 117h1v1h-1zM112 118h1v1h-1zM113 119h1v1h-1zM114 120h1v1h-1zM115 121h2v1h-2zM117 122h2v1h-2zM119 123h3v1h-3zM122 124h3v1h-3zM125 125h4v1h-4zM129 126h4v1h-4zM133 127h2v1h-2zM135 128h3v1h-3zM223 128h6v1h-6zM138 129h3v1h-3zM217 129h6v1h-6zM229 129h4v1h-4zM141 130h2v1h-2zM213 130h4v1h-4zM233 130h19v1h-19zM143 131h3v1h-3zM209 131h4v1h-4zM252 131h1v1h-1zM146 132h2v1h-2zM205 132h4v1h-4zM253 132h1v1h-1zM148 133h1v1h-1zM201 133h4v1h-4zM254 133h1v1h-1zM149 134h2v1h-2zM197 134h4v1h-4zM255 134h1v1h-1zM151 135h1v1h-1zM194 135h3v1h-3zM256 135h1v1h-1zM152 136h1v1h-1zM192 136h2v1h-2zM257 136h1v1h-1zM153 137h2v1h-2zM190 137h2v1h-2zM258 137h1v1h-1zM155 138h2v1h-2zM188 138h2v1h-2zM259 138h1v1h-1zM157 139h4v1h-4zM185 139h3v1h-3zM260 139h1v1h-1zM161 140h6v1h-6zM181 140h4v1h-4zM260 140h1v1h-1zM167 141h14v1h-14zM261 141h1v1h-1zM262 142h1v1h-1zM262 143h1v1h-1zM263 144h1v1h-1zM264 145h1v1h-1zM264 146h1v1h-1zM265 147h1v1h-1zM266 148h1v1h-1zM266 149h1v1h-1zM267 150h1v1h-1zM268 151h1v1h-1zM268 152h1v1h-1zM269 153h1v1h-1zM269 154h1v1h-1zM270 155h1v1h-1zM271 156h1v1h-1zM271 157h1v1h-1zM272 158h1v1h-1zM273 159h1v1h-1zM273 160h1v1h-1zM274 161h1v1h-1zM274 162h1v1h-1zM275 163h1v1h-1zM276 164h1v1h-1zM276 165h1v1h-1zM277 166h1v1h-1zM277 167h1v1h-1zM278 168h1v1h-1zM279 169h1v1h-1zM279 170h1v1h-1zM280 171h1v1h-1zM281 172h1v1h-1zM281 173h1v1h-1zM282 174h1v1h-1zM282 175h1v1h-1zM283 176h1v1h-1zM284 177h1v1h-1zM285 178h2v1h-2zM287 179h1v1h-1zM288 180h1v1h-1zM289 181h2v1h-2zM291 182h1v1h-1zM292 183h2v1h-2zM294 184h2v1h-2zM296 185h2v1h-2zM298 186h2v1h-2zM300 187h1v1h-1zM301 188h1v1h-1zM301 189h1v1h-1zM302 190h1v1h-1zM303 191h1v1h-1zM304 192h1v1h-1zM305 193h1v1h-1zM305 194h1v1h-1zM306 195h1v1h-1zM307 196h1v1h-1zM307 197h1v1h-1zM308 198h1v1h-1zM308 199h1v1h-1zM309 200h1v1h-1zM309 201h1v1h-1zM310 202h1v1h-1zM310 203h1v1h-1zM311 204h1v1h-1zM311 205h1v1h-1zM312 206h1v1h-1zM312 207h1v1h-1zM313 208h1v1h-1zM313 209h1v1h-1zM314 210h1v1h-1zM314 211h1v1h-1zM315 212h1v1h-1zM315 213h1v1h-1zM315 214h1v1h-1zM316 215h1v1h-1zM316 216h1v1h-1zM316 217h1v1h-1zM316 218h1v1h-1zM317 219h1v1h-1zM317 220h1v1h-1zM317 221h1v1h-1zM317 222h1v1h-1zM318 223h1v1h-1zM318 224h1v1h-1zM318 225h1v1h-1zM319 226h1v1h-1zM319 227h1v1h-1zM319 228h1v1h-1zM319 229h1v1h-1zM320 230h1v1h-1zM320 231h1v1h-1zM320 232h1v1h-1zM321 233h1v1h-1zM321 234h1v1h-1zM321 235h1v1h-1zM321 236h1v1h-1zM322 237h1v1h-1zM322 238h1v1h-1zM322 239h1v1h-1zM322 240h1v1h-1zM323 241h1v1h-1zM323 242h1v1h-1zM324 243h1v1h-1zM324 244h1v1h-1zM325 245h1v1h-1zM325 246h1v1h-1zM326 247h1v1h-1zM326 248h1v1h-1zM327 249h1v1h-1zM328 250h1v1h-1zM328 251h1v1h-1zM329 252h1v1h-1zM329 253h1v1h-1zM330 254h1v1h-1zM330 255h1v1h-1zM331 256h1v1h-1zM332 257h1v1h-1zM332 258h1v1h-1zM333 259h1v1h-1zM334 260h1v1h-1zM335 261h1v1h-1zM335 262h1v1h-1zM336 263h1v1h-1zM337 264h1v1h-1zM338 265h1v1h-1zM338 266h1v1h-1zM339 267h1v1h-1zM340 268h1v1h-1zM340 269h1v1h-1zM341 270h1v1h-1zM341 271h1v1h-1zM342 272h1v1h-1zM343 273h1v1h-1zM343 274h1v1h-1zM344 275h1v1h-1zM345 276h1v1h-1zM345 277h1v1h-1zM346 278h1v1h-1zM346 279h1v1h-1zM347 280h1v1h-1zM707 280h1v1h-1zM348 281h1v1h-1zM706 281h1v1h-1zM348 282h1v1h-1zM706 282h1v1h-1zM349 283h1v1h-1zM705 283h1v1h-1zM350 284h1v1h-1zM704 284h1v1h-1zM351 285h1v1h-1zM704 285h1v1h-1zM351 286h1v1h-1zM703 286h1v1h-1zM352 287h1v1h-1zM702 287h1v1h-1zM353 288h1v1h-1zM702 288h1v1h-1zM354 289h1v1h-1zM701 289h1v1h-1zM354 290h1v1h-1zM700 290h1v1h-1zM355 291h1v1h-1zM700 291h1v1h-1zM356 292h1v1h-1zM699 292h1v1h-1zM356 293h1v1h-1zM698 293h1v1h-1zM357 294h1v1h-1zM697 294h1v1h-1zM357 295h1v1h-1zM695 295h2v1h-2zM358 296h1v1h-1zM694 296h1v1h-1zM358 297h1v1h-1zM693 297h1v1h-1zM359 298h1v1h-1zM692 298h1v1h-1zM359 299h1v1h-1zM691 299h1v1h-1zM360 300h1v1h-1zM691 300h1v1h-1zM360 301h1v1h-1zM690 301h1v1h-1zM361 302h1v1h-1zM690 302h1v1h-1zM361 303h1v1h-1zM690 303h1v1h-1zM362 304h1v1h-1zM690 304h1v1h-1zM362 305h1v1h-1zM689 305h1v1h-1zM363 306h1v1h-1zM689 306h1v1h-1zM363 307h1v1h-1zM689 307h1v1h-1zM364 308h1v1h-1zM688 308h1v1h-1zM364 309h1v1h-1zM688 309h1v1h-1zM365 310h1v1h-1zM688 310h1v1h-1zM365 311h1v1h-1zM688 311h1v1h-1zM366 312h1v1h-1zM687 312h1v1h-1zM366 313h1v1h-1zM687 313h1v1h-1zM366 314h1v1h-1zM687 314h1v1h-1zM367 315h1v1h-1zM686 315h1v1h-1zM367 316h1v1h-1zM686 316h1v1h-1zM368 317h1v1h-1zM686 317h1v1h-1zM368 318h1v1h-1zM686 318h1v1h-1zM368 319h1v1h-1zM685 319h1v1h-1zM369 320h1v1h-1zM685 320h1v1h-1zM369 321h1v1h-1zM685 321h1v1h-1zM370 322h1v1h-1zM587 322h1v1h-1zM684 322h1v1h-1zM370 323h1v1h-1zM585 323h2v1h-2zM588 323h2v1h-2zM684 323h1v1h-1zM371 324h1v1h-1zM583 324h2v1h-2zM590 324h1v1h-1zM684 324h1v1h-1zM371 325h1v1h-1zM582 325h1v1h-1zM591 325h2v1h-2zM684 325h1v1h-1zM372 326h1v1h-1zM580 326h2v1h-2zM593 326h2v1h-2zM683 326h1v1h-1zM372 327h1v1h-1zM578 327h2v1h-2zM595 327h1v1h-1zM683 327h1v1h-1zM373 328h1v1h-1zM576 328h2v1h-2zM596 328h2v1h-2zM683 328h1v1h-1zM373 329h1v1h-1zM574 329h2v1h-2zM598 329h1v1h-1zM682 329h1v1h-1zM374 330h1v1h-1zM572 330h2v1h-2zM599 330h2v1h-2zM682 330h1v1h-1zM374 331h1v1h-1zM570 331h2v1h-2zM601 331h2v1h-2zM681 331h1v1h-1zM375 332h1v1h-1zM568 332h2v1h-2zM603 332h1v1h-1zM681 332h1v1h-1zM376 333h1v1h-1zM566 333h2v1h-2zM604 333h1v1h-1zM680 333h1v1h-1zM376 334h1v1h-1zM564 334h2v1h-2zM605 334h1v1h-1zM680 334h1v1h-1zM377 335h1v1h-1zM563 335h1v1h-1zM606 335h1v1h-1zM679 335h1v1h-1zM377 336h1v1h-1zM562 336h1v1h-1zM607 336h1v1h-1zM679 336h1v1h-1zM378 337h1v1h-1zM459 337h2v1h-2zM561 337h1v1h-1zM608 337h1v1h-1zM678 337h1v1h-1zM378 338h1v1h-1zM457 338h2v1h-2zM461 338h4v1h-4zM559 338h2v1h-2zM609 338h1v1h-1zM678 338h1v1h-1zM379 339h1v1h-1zM455 339h2v1h-2zM465 339h14v1h-14zM558 339h1v1h-1zM610 339h1v1h-1zM677 339h1v1h-1zM380 340h2v1h-2zM454 340h1v1h-1zM479 340h8v1h-8zM557 340h1v1h-1zM611 340h1v1h-1zM677 340h1v1h-1zM382 341h2v1h-2zM452 341h2v1h-2zM487 341h8v1h-8zM556 341h1v1h-1zM612 341h1v1h-1zM676 341h1v1h-1zM384 342h2v1h-2zM451 342h1v1h-1zM495 342h8v1h-8zM555 342h1v1h-1zM613 342h2v1h-2zM676 342h1v1h-1zM386 343h2v1h-2zM450 343h1v1h-1zM503 343h6v1h-6zM553 343h2v1h-2zM615 343h1v1h-1zM675 343h1v1h-1zM388 344h2v1h-2zM449 344h1v1h-1zM509 344h2v1h-2zM551 344h2v1h-2zM616 344h1v1h-1zM675 344h1v1h-1zM390 345h1v1h-1zM449 345h1v1h-1zM511 345h3v1h-3zM550 345h1v1h-1zM617 345h2v1h-2zM674 345h1v1h-1zM391 346h2v1h-2zM448 346h1v1h-1zM514 346h5v1h-5zM548 346h2v1h-2zM619 346h2v1h-2zM674 346h1v1h-1zM393 347h2v1h-2zM447 347h1v1h-1zM519 347h5v1h-5zM545 347h3v1h-3zM621 347h4v1h-4zM673 347h1v1h-1zM395 348h1v1h-1zM446 348h1v1h-1zM524 348h1v1h-1zM541 348h4v1h-4zM625 348h4v1h-4zM672 348h1v1h-1zM396 349h2v1h-2zM445 349h1v1h-1zM525 349h1v1h-1zM539 349h2v1h-2zM629 349h2v1h-2zM671 349h1v1h-1zM398 350h2v1h-2zM445 350h1v1h-1zM526 350h1v1h-1zM538 350h1v1h-1zM631 350h3v1h-3zM671 350h1v1h-1zM400 351h2v1h-2zM407 351h6v1h-6zM444 351h1v1h-1zM527 351h1v1h-1zM537 351h1v1h-1zM634 351h2v1h-2zM670 351h1v1h-1zM402 352h5v1h-5zM413 352h4v1h-4zM441 352h3v1h-3zM527 352h1v1h-1zM535 352h2v1h-2zM636 352h2v1h-2zM669 352h1v1h-1zM417 353h4v1h-4zM437 353h4v1h-4zM528 353h1v1h-1zM534 353h1v1h-1zM638 353h2v1h-2zM668 353h1v1h-1zM421 354h2v1h-2zM433 354h4v1h-4zM529 354h1v1h-1zM533 354h1v1h-1zM640 354h2v1h-2zM668 354h1v1h-1zM423 355h3v1h-3zM429 355h4v1h-4zM530 355h1v1h-1zM532 355h1v1h-1zM642 355h3v1h-3zM666 355h2v1h-2zM426 356h3v1h-3zM531 356h1v1h-1zM645 356h2v1h-2zM663 356h3v1h-3zM647 357h3v1h-3zM661 357h2v1h-2zM650 358h11v1h-11z" fill="#3cb371"/>
<path d="M23 45h8v1h-8zM3 46h20v1h-20zM31 46h8v1h-8zM39 47h6v1h-6zM45 48h4v1h-4zM49 49h4v1h-4zM53 50h4v1h-4zM57 51h4v1h-4zM61 52h2v1h-2zM63 53h3v1h-3zM66 54h3v1h-3zM69 55h4v1h-4zM73 56h6v1h-6zM79 57h5v1h-5zM84 58h2v1h-2zM86 59h2v1h-2zM88 60h2v1h-2zM90 61h2v1h-2zM92 62h2v1h-2zM94 63h1v1h-1zM95 64h2v1h-2zM97 65h2v1h-2zM99 66h1v1h-1zM100 67h2v1h-2zM102 68h1v1h-1zM103 69h2v1h-2zM105 70h2v1h-2zM107 71h1v1h-1zM108 72h1v1h-1zM109 73h2v1h-2zM111 74h1v1h-1zM112 75h1v1h-1zM113 76h2v1h-2zM115 77h4v1h-4zM119 78h8v1h-8zM127 79h6v1h-6zM133 80h2v1h-2zM135 81h3v1h-3zM138 82h3v1h-3zM141 83h2v1h-2zM143 84h3v1h-3zM146 85h3v1h-3zM149 86h2v1h-2zM151 87h3v1h-3zM154 88h3v1h-3zM157 89h4v1h-4zM161 90h4v1h-4zM165 91h4v1h-4zM241 91h4v1h-4zM169 92h4v1h-4zM237 92h4v1h-4zM245 92h4v1h-4zM173 93h4v1h-4zM233 93h4v1h-4zM249 93h6v1h-6zM177 94h6v1h-6zM207 94h16v1h-16zM229 94h4v1h-4zM255 94h5v1h-5zM183 95h24v1h-24zM223 95h6v1h-6zM260 95h1v1h-1zM261 96h1v1h-1zM262 97h1v1h-1zM263 98h1v1h-1zM263 99h1v1h-1zM264 100h1v1h-1zM265 101h1v1h-1zM266 102h1v1h-1zM267 103h1v1h-1zM268 104h1v1h-1zM269 105h1v1h-1zM270 106h1v1h-1zM271 107h1v1h-1zM271 108h1v1h-1zM272 109h1v1h-1zM273 110h1v1h-1zM274 111h1v1h-1zM275 112h1v1h-1zM276 113h1v1h-1zM277 114h2v1h-2zM279 115h1v1h-1zM280 116h1v1h-1zM281 117h2v1h-2zM283 118h2v1h-2zM285 119h4v1h-4zM289 120h3v1h-3zM292 121h2v1h-2zM294 122h1v1h-1zM295 123h2v1h-2zM297 124h2v1h-2zM299 125h1v1h-1zM300 126h1v1h-1zM301 127h1v1h-1zM302 128h1v1h-1zM303 129h2v1h-2zM305 130h1v1h-1zM306 131h1v1h-1zM307 132h1v1h-1zM308 133h1v1h-1zM309 134h1v1h-1zM310 135h1v1h-1zM311 136h2v1h-2zM313 137h1v1h-1zM314 138h1v1h-1zM315 139h1v1h-1zM316 140h1v1h-1zM316 141h1v1h-1zM317 142h1v1h-1zM317 143h1v1h-1zM318 144h1v1h-1zM318 145h1v1h-1zM319 146h1v1h-1zM319 147h1v1h-1zM320 148h1v1h-1zM320 149h1v1h-1zM321 150h1v1h-1zM321 151h1v1h-1zM322 152h1v1h-1zM322 153h1v1h-1zM323 154h1v1h-1zM324 155h2v1h-2zM706 155h2v1h-2zM326 156h2v1h-2zM703 156h3v1h-3zM328 157h2v1h-2zM701 157h2v1h-2zM330 158h2v1h-2zM698 158h3v1h-3zM332 159h1v1h-1zM696 159h2v1h-2zM333 160h1v1h-1zM694 160h2v1h-2zM334 161h1v1h-1zM692 161h2v1h-2zM335 162h2v1h-2zM687 162h5v1h-5zM337 163h1v1h-1zM681 163h6v1h-6zM338 164h1v1h-1zM677 164h4v1h-4zM339 165h1v1h-1zM674 165h3v1h-3zM340 166h1v1h-1zM671 166h3v1h-3zM341 167h1v1h-1zM669 167h2v1h-2zM341 168h1v1h-1zM667 168h2v1h-2zM342 169h1v1h-1zM665 169h2v1h-2zM343 170h1v1h-1zM663 170h2v1h-2zM344 171h1v1h-1zM662 171h1v1h-1zM345 172h1v1h-1zM660 172h2v1h-2zM345 173h1v1h-1zM659 173h1v1h-1zM346 174h1v1h-1zM657 174h2v1h-2zM347 175h1v1h-1zM656 175h1v1h-1zM348 176h1v1h-1zM655 176h1v1h-1zM349 177h2v1h-2zM653 177h2v1h-2zM351 178h1v1h-1zM652 178h1v1h-1zM352 179h1v1h-1zM651 179h1v1h-1zM353 180h2v1h-2zM649 180h2v1h-2zM355 181h1v1h-1zM648 181h1v1h-1zM356 182h1v1h-1zM647 182h1v1h-1zM357 183h1v1h-1zM645 183h2v1h-2zM357 184h1v1h-1zM644 184h1v1h-1zM358 185h1v1h-1zM643 185h1v1h-1zM359 186h1v1h-1zM642 186h1v1h-1zM360 187h1v1h-1zM641 187h1v1h-1zM361 188h1v1h-1zM640 188h1v1h-1zM361 189h1v1h-1zM639 189h1v1h-1zM362 190h1v1h-1zM639 190h1v1h-1zM363 191h1v1h-1zM638 191h1v1h-1zM364 192h1v1h-1zM637 192h1v1h-1zM365 193h1v1h-1zM636 193h1v1h-1zM365 194h1v1h-1zM635 194h1v1h-1zM366 195h1v1h-1zM634 195h1v1h-1zM367 196h1v1h-1zM633 196h1v1h-1zM368 197h1v1h-1zM631 197h2v1h-2zM369 198h1v1h-1zM630 198h1v1h-1zM369 199h1v1h-1zM629 199h1v1h-1zM370 200h1v1h-1zM628 200h1v1h-1zM371 201h1v1h-1zM627 201h1v1h-1zM372 202h1v1h-1zM625 202h2v1h-2zM372 203h1v1h-1zM624 203h1v1h-1zM373 204h1v1h-1zM623 204h1v1h-1zM374 205h1v1h-1zM621 205h2v1h-2zM374 206h1v1h-1zM620 206h1v1h-1zM375 207h1v1h-1zM619 207h1v1h-1zM376 208h1v1h-1zM618 208h1v1h-1zM376 209h1v1h-1zM617 209h1v1h-1zM377 210h1v1h-1zM617 210h1v1h-1zM378 211h1v1h-1zM616 211h1v1h-1zM378 212h1v1h-1zM615 212h1v1h-1zM379 213h1v1h-1zM614 213h1v1h-1zM380 214h1v1h-1zM613 214h1v1h-1zM381 215h2v1h-2zM613 215h1v1h-1zM383 216h1v1h-1zM612 216h1v1h-1zM384 217h1v1h-1zM611 217h1v1h-1zM385 218h2v1h-2zM610 218h1v1h-1zM387 219h1v1h-1zM610 219h1v1h-1zM388 220h1v1h-1zM609 220h1v1h-1zM389 221h1v1h-1zM609 221h1v1h-1zM390 222h1v1h-1zM608 222h1v1h-1zM391 223h1v1h-1zM498 223h3v1h-3zM608 223h1v1h-1zM392 224h1v1h-1zM496 224h2v1h-2zM501 224h4v1h-4zM607 224h1v1h-1zM393 225h1v1h-1zM494 225h2v1h-2zM505 225h3v1h-3zM607 225h1v1h-1zM394 226h1v1h-1zM492 226h2v1h-2zM508 226h1v1h-1zM606 226h1v1h-1zM395 227h1v1h-1zM490 227h2v1h-2zM509 227h2v1h-2zM606 227h1v1h-1zM396 228h1v1h-1zM487 228h3v1h-3zM511 228h1v1h-1zM605 228h1v1h-1zM397 229h1v1h-1zM485 229h2v1h-2zM512 229h1v1h-1zM605 229h1v1h-1zM397 230h1v1h-1zM482 230h3v1h-3zM513 230h2v1h-2zM604 230h1v1h-1zM398 231h1v1h-1zM479 231h3v1h-3zM515 231h1v1h-1zM604 231h1v1h-1zM399 232h1v1h-1zM477 232h2v1h-2zM516 232h1v1h-1zM603 232h1v1h-1zM400 233h1v1h-1zM473 233h4v1h-4zM517 233h1v1h-1zM602 233h1v1h-1zM401 234h1v1h-1zM469 234h4v1h-4zM518 234h1v1h-1zM601 234h1v1h-1zM401 235h1v1h-1zM467 235h2v1h-2zM519 235h2v1h-2zM600 235h1v1h-1zM402 236h1v1h-1zM466 236h1v1h-1zM521 236h1v1h-1zM599 236h1v1h-1zM403 237h1v1h-1zM465 237h1v1h-1zM522 237h1v1h-1zM599 237h1v1h-1zM404 238h1v1h-1zM463 238h2v1h-2zM523 238h1v1h-1zM598 238h1v1h-1zM405 239h2v1h-2zM462 239h1v1h-1zM524 239h1v1h-1zM597 239h1v1h-1zM407 240h1v1h-1zM461 240h1v1h-1zM525 240h1v1h-1zM596 240h1v1h-1zM408 241h1v1h-1zM460 241h1v1h-1zM525 241h1v1h-1zM595 241h1v1h-1zM409 242h2v1h-2zM457 242h3v1h-3zM526 242h1v1h-1zM594 242h1v1h-1zM411 243h1v1h-1zM453 243h4v1h-4zM527 243h1v1h-1zM594 243h1v1h-1zM412 244h2v1h-2zM450 244h3v1h-3zM528 244h1v1h-1zM593 244h1v1h-1zM414 245h2v1h-2zM447 245h3v1h-3zM529 245h1v1h-1zM592 245h1v1h-1zM416 246h2v1h-2zM445 246h2v1h-2zM529 246h1v1h-1zM591 246h1v1h-1zM418 247h3v1h-3zM439 247h6v1h-6zM530 247h1v1h-1zM591 247h1v1h-1zM421 248h2v1h-2zM433 248h6v1h-6zM531 248h17v1h-17zM590 248h1v1h-1zM423 249h3v1h-3zM429 249h4v1h-4zM548 249h2v1h-2zM589 249h1v1h-1zM426 250h3v1h-3zM550 250h2v1h-2zM588 250h1v1h-1zM552 251h2v1h-2zM567 251h8v1h-8zM588 251h1v1h-1zM554 252h13v1h-13zM575 252h13v1h-13z" fill="#ff0000"/>
</g>
<path d="M609 381h12v1h-12zM605 382h4v1h-4zM621 382h2v1h-2zM639 382h16v1h-16zM595 383h10v1h-10zM623 383h3v1h-3zM631 383h8v1h-8zM655 383h8v1h-8zM703 383h5v1h-5zM235 384h2v1h-2zM466 384h3v1h-3zM593 384h2v1h-2zM626 384h5v1h-5zM663 384h16v1h-16zM698 384h5v1h-5zM233 385h2v1h-2zM237 385h2v1h-2zM463 385h3v1h-3zM469 385h2v1h-2zM591 385h2v1h-2zM679 385h6v1h-6zM695 385h3v1h-3zM231 386h2v1h-2zM239 386h3v1h-3zM461 386h2v1h-2zM471 386h3v1h-3zM479 386h21v1h-21zM590 386h1v1h-1zM685 386h4v1h-4zM693 386h2v1h-2zM209 387h4v1h-4zM230 387h1v1h-1zM242 387h3v1h-3zM447 387h14v1h-14zM474 387h5v1h-5zM500 387h2v1h-2zM588 387h2v1h-2zM689 387h4v1h-4zM3 388h2v1h-2zM17 388h12v1h-12zM205 388h4v1h-4zM213 388h4v1h-4zM228 388h2v1h-2zM245 388h2v1h-2zM434 388h13v1h-13zM502 388h2v1h-2zM539 388h4v1h-4zM567 388h8v1h-8zM583 388h5v1h-5zM5 389h4v1h-4zM13 389h4v1h-4zM29 389h4v1h-4zM199 389h6v1h-6zM217 389h11v1h-11zM247 389h3v1h-3zM432 389h2v1h-2zM504 389h2v1h-2zM538 389h1v1h-1zM543 389h6v1h-6zM561 389h6v1h-6zM575 389h8v1h-8zM9 390h4v1h-4zM33 390h14v1h-14zM191 390h8v1h-8zM250 390h2v1h-2zM430 390h2v1h-2zM506 390h3v1h-3zM537 390h1v1h-1zM549 390h4v1h-4zM557 390h4v1h-4zM47 391h8v1h-8zM162 391h3v1h-3zM185 391h6v1h-6zM252 391h2v1h-2zM428 391h2v1h-2zM509 391h2v1h-2zM535 391h2v1h-2zM553 391h4v1h-4zM55 392h6v1h-6zM81 392h3v1h-3zM123 392h4v1h-4zM160 392h2v1h-2zM165 392h4v1h-4zM181 392h4v1h-4zM254 392h2v1h-2zM423 392h5v1h-5zM511 392h3v1h-3zM534 392h1v1h-1zM61 393h4v1h-4zM77 393h4v1h-4zM84 393h2v1h-2zM121 393h2v1h-2zM127 393h16v1h-16zM158 393h2v1h-2zM169 393h12v1h-12zM256 393h2v1h-2zM290 393h11v1h-11zM331 393h2v1h-2zM387 393h2v1h-2zM409 393h14v1h-14zM514 393h11v1h-11zM533 393h1v1h-1zM65 394h12v1h-12zM86 394h2v1h-2zM119 394h2v1h-2zM143 394h8v1h-8zM156 394h2v1h-2zM258 394h3v1h-3zM288 394h2v1h-2zM301 394h4v1h-4zM330 394h1v1h-1zM333 394h4v1h-4zM385 394h2v1h-2zM389 394h2v1h-2zM405 394h4v1h-4zM525 394h4v1h-4zM532 394h1v1h-1zM88 395h2v1h-2zM118 395h1v1h-1zM151 395h5v1h-5zM261 395h2v1h-2zM286 395h2v1h-2zM305 395h4v1h-4zM329 395h1v1h-1zM337 395h14v1h-14zM383 395h2v1h-2zM391 395h3v1h-3zM399 395h6v1h-6zM529 395h3v1h-3zM90 396h5v1h-5zM116 396h2v1h-2zM263 396h3v1h-3zM284 396h2v1h-2zM309 396h2v1h-2zM327 396h2v1h-2zM351 396h8v1h-8zM382 396h1v1h-1zM394 396h5v1h-5zM95 397h21v1h-21zM266 397h18v1h-18zM311 397h3v1h-3zM326 397h1v1h-1zM359 397h16v1h-16zM380 397h2v1h-2zM314 398h3v1h-3zM325 398h1v1h-1zM375 398h5v1h-5zM317 399h4v1h-4zM324 399h1v1h-1zM321 400h3v1h-3z" fill="#1e90ff"/>
<path d="M466 420h2v1h-2zM450 421h3v1h-3zM464 421h2v1h-2zM468 421h2v1h-2zM210 422h3v1h-3zM447 422h3v1h-3zM453 422h2v1h-2zM462 422h2v1h-2zM470 422h1v1h-1zM3 423h2v1h-2zM208 423h2v1h-2zM213 423h2v1h-2zM445 423h2v1h-2zM455 423h3v1h-3zM460 423h2v1h-2zM471 423h2v1h-2zM5 424h4v1h-4zM206 424h2v1h-2zM215 424h3v1h-3zM442 424h3v1h-3zM458 424h2v1h-2zM473 424h2v1h-2zM9 425h6v1h-6zM204 425h2v1h-2zM218 425h2v1h-2zM439 425h3v1h-3zM475 425h2v1h-2zM593 425h20v1h-20zM15 426h6v1h-6zM203 426h1v1h-1zM220 426h1v1h-1zM437 426h2v1h-2zM477 426h2v1h-2zM589 426h4v1h-4zM613 426h4v1h-4zM21 427h2v1h-2zM202 427h1v1h-1zM221 427h1v1h-1zM435 427h2v1h-2zM479 427h3v1h-3zM577 427h12v1h-12zM617 427h6v1h-6zM23 428h3v1h-3zM201 428h1v1h-1zM222 428h1v1h-1zM234 428h10v1h-10zM434 428h1v1h-1zM482 428h2v1h-2zM573 428h4v1h-4zM623 428h5v1h-5zM707 428h1v1h-1zM26 429h2v1h-2zM200 429h1v1h-1zM223 429h2v1h-2zM232 429h2v1h-2zM244 429h1v1h-1zM433 429h1v1h-1zM484 429h1v1h-1zM559 429h14v1h-14zM628 429h2v1h-2zM706 429h1v1h-1zM28 430h2v1h-2zM139 430h2v1h-2zM199 430h1v1h-1zM225 430h1v1h-1zM230 430h2v1h-2zM245 430h2v1h-2zM432 430h1v1h-1zM485 430h1v1h-1zM555 430h4v1h-4zM630 430h2v1h-2zM706 430h1v1h-1zM30 431h2v1h-2zM138 431h1v1h-1zM141 431h2v1h-2zM198 431h1v1h-1zM226 431h1v1h-1zM228 431h2v1h-2zM247 431h1v1h-1zM431 431h1v1h-1zM486 431h1v1h-1zM554 431h1v1h-1zM632 431h2v1h-2zM705 431h1v1h-1zM32 432h2v1h-2zM137 432h1v1h-1zM143 432h3v1h-3zM197 432h1v1h-1zM227 432h1v1h-1zM248 432h1v1h-1zM431 432h1v1h-1zM487 432h2v1h-2zM554 432h1v1h-1zM634 432h2v1h-2zM704 432h1v1h-1zM34 433h2v1h-2zM136 433h1v1h-1zM146 433h2v1h-2zM196 433h1v1h-1zM249 433h2v1h-2zM430 433h1v1h-1zM489 433h1v1h-1zM553 433h1v1h-1zM636 433h2v1h-2zM703 433h1v1h-1zM36 434h1v1h-1zM135 434h1v1h-1zM148 434h1v1h-1zM194 434h2v1h-2zM251 434h1v1h-1zM429 434h1v1h-1zM490 434h1v1h-1zM495 434h5v1h-5zM552 434h1v1h-1zM638 434h2v1h-2zM703 434h1v1h-1zM37 435h1v1h-1zM134 435h1v1h-1zM149 435h1v1h-1zM191 435h3v1h-3zM252 435h1v1h-1zM428 435h1v1h-1zM491 435h4v1h-4zM500 435h2v1h-2zM551 435h1v1h-1zM640 435h2v1h-2zM658 435h10v1h-10zM702 435h1v1h-1zM38 436h1v1h-1zM133 436h1v1h-1zM150 436h1v1h-1zM178 436h5v1h-5zM189 436h2v1h-2zM252 436h1v1h-1zM426 436h2v1h-2zM502 436h1v1h-1zM551 436h1v1h-1zM642 436h3v1h-3zM655 436h3v1h-3zM668 436h1v1h-1zM701 436h1v1h-1zM39 437h1v1h-1zM132 437h1v1h-1zM151 437h1v1h-1zM176 437h2v1h-2zM183 437h6v1h-6zM253 437h1v1h-1zM351 437h6v1h-6zM424 437h2v1h-2zM503 437h2v1h-2zM550 437h1v1h-1zM645 437h4v1h-4zM653 437h2v1h-2zM669 437h1v1h-1zM700 437h1v1h-1zM39 438h1v1h-1zM131 438h1v1h-1zM152 438h1v1h-1zM174 438h2v1h-2zM253 438h1v1h-1zM347 438h4v1h-4zM357 438h4v1h-4zM422 438h2v1h-2zM505 438h2v1h-2zM549 438h1v1h-1zM649 438h4v1h-4zM670 438h1v1h-1zM700 438h1v1h-1zM40 439h1v1h-1zM129 439h2v1h-2zM153 439h1v1h-1zM172 439h2v1h-2zM254 439h1v1h-1zM346 439h1v1h-1zM361 439h3v1h-3zM420 439h2v1h-2zM507 439h1v1h-1zM548 439h1v1h-1zM671 439h1v1h-1zM699 439h1v1h-1zM41 440h1v1h-1zM127 440h2v1h-2zM154 440h1v1h-1zM167 440h5v1h-5zM254 440h1v1h-1zM305 440h3v1h-3zM345 440h1v1h-1zM364 440h2v1h-2zM419 440h1v1h-1zM508 440h1v1h-1zM548 440h1v1h-1zM672 440h1v1h-1zM698 440h1v1h-1zM42 441h1v1h-1zM126 441h1v1h-1zM155 441h12v1h-12zM255 441h1v1h-1zM301 441h4v1h-4zM308 441h2v1h-2zM343 441h2v1h-2zM366 441h2v1h-2zM417 441h2v1h-2zM509 441h1v1h-1zM547 441h1v1h-1zM673 441h1v1h-1zM698 441h1v1h-1zM43 442h1v1h-1zM124 442h2v1h-2zM255 442h1v1h-1zM298 442h3v1h-3zM310 442h1v1h-1zM342 442h1v1h-1zM368 442h2v1h-2zM415 442h2v1h-2zM510 442h1v1h-1zM546 442h1v1h-1zM674 442h1v1h-1zM697 442h1v1h-1zM44 443h1v1h-1zM90 443h3v1h-3zM123 443h1v1h-1zM256 443h1v1h-1zM296 443h2v1h-2zM311 443h2v1h-2zM341 443h1v1h-1zM370 443h2v1h-2zM386 443h19v1h-19zM414 443h1v1h-1zM511 443h1v1h-1zM545 443h1v1h-1zM675 443h1v1h-1zM696 443h1v1h-1zM45 444h1v1h-1zM88 444h2v1h-2zM93 444h4v1h-4zM121 444h2v1h-2zM256 444h1v1h-1zM294 444h2v1h-2zM313 444h2v1h-2zM340 444h1v1h-1zM372 444h2v1h-2zM384 444h2v1h-2zM405 444h4v1h-4zM412 444h2v1h-2zM512 444h1v1h-1zM544 444h1v1h-1zM676 444h1v1h-1zM695 444h1v1h-1zM46 445h1v1h-1zM86 445h2v1h-2zM97 445h3v1h-3zM120 445h1v1h-1zM257 445h1v1h-1zM292 445h2v1h-2zM315 445h1v1h-1zM338 445h2v1h-2zM374 445h2v1h-2zM382 445h2v1h-2zM409 445h3v1h-3zM513 445h1v1h-1zM543 445h1v1h-1zM677 445h1v1h-1zM695 445h1v1h-1zM47 446h1v1h-1zM84 446h2v1h-2zM100 446h2v1h-2zM119 446h1v1h-1zM257 446h1v1h-1zM291 446h1v1h-1zM316 446h1v1h-1zM336 446h2v1h-2zM376 446h2v1h-2zM380 446h2v1h-2zM514 446h1v1h-1zM543 446h1v1h-1zM678 446h1v1h-1zM694 446h1v1h-1zM47 447h1v1h-1zM83 447h1v1h-1zM102 447h2v1h-2zM117 447h2v1h-2zM258 447h1v1h-1zM290 447h1v1h-1zM317 447h1v1h-1zM334 447h2v1h-2zM378 447h2v1h-2zM515 447h1v1h-1zM542 447h1v1h-1zM679 447h1v1h-1zM693 447h1v1h-1zM48 448h1v1h-1zM81 448h2v1h-2zM104 448h2v1h-2zM116 448h1v1h-1zM258 448h1v1h-1zM289 448h1v1h-1zM318 448h1v1h-1zM332 448h2v1h-2zM516 448h1v1h-1zM541 448h1v1h-1zM680 448h1v1h-1zM692 448h1v1h-1zM49 449h1v1h-1zM79 449h2v1h-2zM106 449h10v1h-10zM259 449h1v1h-1zM287 449h2v1h-2zM319 449h1v1h-1zM331 449h1v1h-1zM517 449h1v1h-1zM540 449h1v1h-1zM681 449h1v1h-1zM692 449h1v1h-1zM50 450h1v1h-1zM78 450h1v1h-1zM259 450h1v1h-1zM286 450h1v1h-1zM319 450h1v1h-1zM329 450h2v1h-2zM518 450h1v1h-1zM539 450h1v1h-1zM682 450h1v1h-1zM687 450h5v1h-5zM51 451h2v1h-2zM76 451h2v1h-2zM260 451h2v1h-2zM285 451h1v1h-1zM320 451h1v1h-1zM327 451h2v1h-2zM519 451h2v1h-2zM537 451h2v1h-2zM683 451h4v1h-4zM53 452h4v1h-4zM74 452h2v1h-2zM262 452h1v1h-1zM284 452h1v1h-1zM321 452h1v1h-1zM326 452h1v1h-1zM521 452h1v1h-1zM535 452h2v1h-2zM57 453h4v1h-4zM71 453h3v1h-3zM263 453h2v1h-2zM273 453h11v1h-11zM322 453h1v1h-1zM324 453h2v1h-2zM522 453h1v1h-1zM534 453h1v1h-1zM61 454h4v1h-4zM69 454h2v1h-2zM265 454h2v1h-2zM269 454h4v1h-4zM323 454h1v1h-1zM523 454h4v1h-4zM532 454h2v1h-2zM65 455h4v1h-4zM267 455h2v1h-2zM527 455h5v1h-5z" fill="#20b2aa"/>
<path d="M463 422h8v1h-8zM458 423h5v1h-5zM471 423h6v1h-6zM7 424h6v1h-6zM215 424h6v1h-6zM455 424h3v1h-3zM477 424h4v1h-4zM3 425h4v1h-4zM13 425h4v1h-4zM211 425h4v1h-4zM221 425h2v1h-2zM453 425h2v1h-2zM481 425h3v1h-3zM599 425h22v1h-22zM17 426h4v1h-4zM209 426h2v1h-2zM223 426h3v1h-3zM450 426h3v1h-3zM484 426h2v1h-2zM593 426h6v1h-6zM621 426h4v1h-4zM21 427h4v1h-4zM208 427h1v1h-1zM226 427h3v1h-3zM448 427h2v1h-2zM486 427h1v1h-1zM589 427h4v1h-4zM625 427h4v1h-4zM25 428h4v1h-4zM207 428h1v1h-1zM229 428h4v1h-4zM446 428h2v1h-2zM487 428h2v1h-2zM577 428h12v1h-12zM629 428h4v1h-4zM29 429h2v1h-2zM205 429h2v1h-2zM233 429h6v1h-6zM444 429h2v1h-2zM489 429h2v1h-2zM573 429h4v1h-4zM633 429h4v1h-4zM31 430h3v1h-3zM204 430h1v1h-1zM239 430h8v1h-8zM443 430h1v1h-1zM491 430h2v1h-2zM570 430h3v1h-3zM637 430h2v1h-2zM34 431h2v1h-2zM202 431h2v1h-2zM247 431h5v1h-5zM441 431h2v1h-2zM493 431h4v1h-4zM567 431h3v1h-3zM639 431h3v1h-3zM36 432h2v1h-2zM200 432h2v1h-2zM252 432h1v1h-1zM440 432h1v1h-1zM497 432h3v1h-3zM565 432h2v1h-2zM642 432h3v1h-3zM38 433h1v1h-1zM146 433h3v1h-3zM198 433h2v1h-2zM253 433h2v1h-2zM439 433h1v1h-1zM500 433h2v1h-2zM563 433h2v1h-2zM645 433h4v1h-4zM39 434h2v1h-2zM144 434h2v1h-2zM149 434h4v1h-4zM196 434h2v1h-2zM255 434h1v1h-1zM437 434h2v1h-2zM502 434h2v1h-2zM561 434h2v1h-2zM649 434h4v1h-4zM41 435h2v1h-2zM142 435h2v1h-2zM153 435h3v1h-3zM194 435h2v1h-2zM256 435h1v1h-1zM436 435h1v1h-1zM504 435h2v1h-2zM560 435h1v1h-1zM653 435h4v1h-4zM43 436h1v1h-1zM140 436h2v1h-2zM156 436h2v1h-2zM191 436h3v1h-3zM257 436h2v1h-2zM435 436h1v1h-1zM506 436h2v1h-2zM559 436h1v1h-1zM657 436h12v1h-12zM44 437h1v1h-1zM139 437h1v1h-1zM158 437h2v1h-2zM189 437h2v1h-2zM259 437h1v1h-1zM433 437h2v1h-2zM508 437h2v1h-2zM557 437h2v1h-2zM669 437h4v1h-4zM45 438h1v1h-1zM137 438h2v1h-2zM160 438h2v1h-2zM183 438h6v1h-6zM260 438h1v1h-1zM359 438h8v1h-8zM431 438h2v1h-2zM510 438h1v1h-1zM556 438h1v1h-1zM673 438h3v1h-3zM46 439h1v1h-1zM135 439h2v1h-2zM162 439h3v1h-3zM177 439h6v1h-6zM261 439h1v1h-1zM355 439h4v1h-4zM367 439h6v1h-6zM430 439h1v1h-1zM511 439h2v1h-2zM555 439h1v1h-1zM676 439h2v1h-2zM47 440h2v1h-2zM134 440h1v1h-1zM165 440h4v1h-4zM173 440h4v1h-4zM262 440h1v1h-1zM353 440h2v1h-2zM373 440h2v1h-2zM428 440h2v1h-2zM513 440h2v1h-2zM554 440h1v1h-1zM678 440h1v1h-1zM707 440h1v1h-1zM49 441h1v1h-1zM132 441h2v1h-2zM169 441h4v1h-4zM263 441h2v1h-2zM351 441h2v1h-2zM375 441h3v1h-3zM425 441h3v1h-3zM515 441h1v1h-1zM553 441h1v1h-1zM679 441h2v1h-2zM706 441h1v1h-1zM50 442h1v1h-1zM131 442h1v1h-1zM265 442h1v1h-1zM350 442h1v1h-1zM378 442h5v1h-5zM421 442h4v1h-4zM516 442h1v1h-1zM552 442h1v1h-1zM681 442h2v1h-2zM705 442h1v1h-1zM51 443h1v1h-1zM129 443h2v1h-2zM266 443h1v1h-1zM307 443h4v1h-4zM348 443h2v1h-2zM383 443h8v1h-8zM399 443h8v1h-8zM415 443h6v1h-6zM517 443h1v1h-1zM551 443h1v1h-1zM683 443h1v1h-1zM703 443h2v1h-2zM52 444h1v1h-1zM127 444h2v1h-2zM267 444h1v1h-1zM305 444h2v1h-2zM311 444h5v1h-5zM347 444h1v1h-1zM391 444h8v1h-8zM407 444h8v1h-8zM518 444h1v1h-1zM550 444h1v1h-1zM684 444h2v1h-2zM702 444h1v1h-1zM53 445h2v1h-2zM97 445h6v1h-6zM126 445h1v1h-1zM268 445h1v1h-1zM303 445h2v1h-2zM316 445h2v1h-2zM345 445h2v1h-2zM519 445h2v1h-2zM549 445h1v1h-1zM686 445h2v1h-2zM701 445h1v1h-1zM55 446h1v1h-1zM93 446h4v1h-4zM103 446h6v1h-6zM124 446h2v1h-2zM269 446h1v1h-1zM302 446h1v1h-1zM318 446h1v1h-1zM344 446h1v1h-1zM521 446h1v1h-1zM548 446h1v1h-1zM688 446h2v1h-2zM700 446h1v1h-1zM56 447h1v1h-1zM90 447h3v1h-3zM109 447h4v1h-4zM119 447h5v1h-5zM269 447h1v1h-1zM300 447h2v1h-2zM319 447h2v1h-2zM343 447h1v1h-1zM522 447h1v1h-1zM547 447h1v1h-1zM690 447h10v1h-10zM57 448h2v1h-2zM88 448h2v1h-2zM113 448h6v1h-6zM270 448h1v1h-1zM298 448h2v1h-2zM321 448h2v1h-2zM341 448h2v1h-2zM523 448h1v1h-1zM545 448h2v1h-2zM59 449h1v1h-1zM86 449h2v1h-2zM271 449h1v1h-1zM296 449h2v1h-2zM323 449h2v1h-2zM340 449h1v1h-1zM524 449h2v1h-2zM543 449h2v1h-2zM60 450h2v1h-2zM84 450h2v1h-2zM272 450h1v1h-1zM294 450h2v1h-2zM325 450h4v1h-4zM335 450h5v1h-5zM526 450h1v1h-1zM542 450h1v1h-1zM62 451h1v1h-1zM81 451h3v1h-3zM273 451h1v1h-1zM292 451h2v1h-2zM329 451h6v1h-6zM527 451h2v1h-2zM540 451h2v1h-2zM63 452h2v1h-2zM77 452h4v1h-4zM273 452h1v1h-1zM289 452h3v1h-3zM529 452h2v1h-2zM535 452h5v1h-5zM65 453h2v1h-2zM71 453h6v1h-6zM274 453h1v1h-1zM285 453h4v1h-4zM531 453h4v1h-4zM67 454h4v1h-4zM275 454h10v1h-10z" fill="#ff0000"/>
</g>
<path d="M702,110 h3 v-2 l4,3.5 l-4,3.5 v-2 h-3 z" fill="#ff0000"/>
<g shape-rendering="crispEdges" fill="#000">
<rect x="2" y="2" width="724" height="1"/>
<rect x="2" y="362" width="724" height="1"/>
<rect x="2" y="2" width="1" height="361"/>
<rect x="725" y="2" width="1" height="361"/>
<rect x="2" y="364" width="724" height="1"/>
<rect x="2" y="411" width="724" height="1"/>
<rect x="2" y="364" width="1" height="48"/>
<rect x="725" y="364" width="1" height="48"/>
<rect x="2" y="413" width="724" height="1"/>
<rect x="2" y="459" width="724" height="1"/>
<rect x="2" y="413" width="1" height="47"/>
<rect x="725" y="413" width="1" height="47"/>
<rect x="726" y="18" width="2" height="1"/>
<rect x="726" y="53" width="2" height="1"/>
<rect x="726" y="86" width="2" height="1"/>
<rect x="726" y="120" width="2" height="1"/>
<rect x="726" y="153" width="2" height="1"/>
<rect x="726" y="187" width="2" height="1"/>
<rect x="726" y="222" width="2" height="1"/>
<rect x="726" y="255" width="2" height="1"/>
<rect x="726" y="289" width="2" height="1"/>
<rect x="726" y="324" width="2" height="1"/>
<rect x="726" y="359" width="2" height="1"/>
<rect x="726" y="366" width="1" height="1"/>
<rect x="726" y="410" width="1" height="1"/>
<rect x="726" y="415" width="1" height="1"/>
<rect x="726" y="458" width="1" height="1"/>
<rect x="3" y="460" width="1" height="3"/>
<rect x="67" y="460" width="1" height="3"/>
<rect x="131" y="460" width="1" height="3"/>
<rect x="195" y="460" width="1" height="3"/>
<rect x="259" y="460" width="1" height="3"/>
<rect x="323" y="460" width="1" height="3"/>
<rect x="387" y="460" width="1" height="3"/>
<rect x="451" y="460" width="1" height="3"/>
<rect x="515" y="460" width="1" height="3"/>
<rect x="579" y="460" width="1" height="3"/>
<rect x="643" y="460" width="1" height="3"/>
<rect x="707" y="460" width="1" height="3"/>
</g>
<text x="731.5" y="22" font-size="10" fill="#000" stroke="#000" stroke-width="0.1" font-family="&#39;Liberation Sans&#39;, sans-serif" text-rendering="geometricPrecision" textLength="31.5" lengthAdjust="spacingAndGlyphs">1.28770</text>
<text x="731.5" y="57" font-size="10" fill="#000" stroke="#000" stroke-width="0.1" font-family="&#39;Liberation Sans&#39;, sans-serif" text-rendering="geometricPrecision" textLength="31.5" lengthAdjust="spacingAndGlyphs">1.28700</text>
<text x="731.5" y="90" font-size="10" fill="#000" stroke="#000" stroke-width="0.1" font-family="&#39;Liberation Sans&#39;, sans-serif" text-rendering="geometricPrecision" textLength="31.5" lengthAdjust="spacingAndGlyphs">1.28635</text>
<text x="731.5" y="124" font-size="10" fill="#000" stroke="#000" stroke-width="0.1" font-family="&#39;Liberation Sans&#39;, sans-serif" text-rendering="geometricPrecision" textLength="31.5" lengthAdjust="spacingAndGlyphs">1.28565</text>
<text x="731.5" y="157" font-size="10" fill="#000" stroke="#000" stroke-width="0.1" font-family="&#39;Liberation Sans&#39;, sans-serif" text-rendering="geometricPrecision" textLength="31.5" lengthAdjust="spacingAndGlyphs">1.28500</text>
<text x="731.5" y="191" font-size="10" fill="#000" stroke="#000" stroke-width="0.1" font-family="&#39;Liberation Sans&#39;, sans-serif" text-rendering="geometricPrecision" textLength="31.5" lengthAdjust="spacingAndGlyphs">1.28430</text>
<text x="731.5" y="226" font-size="10" fill="#000" stroke="#000" stroke-width="0.1" font-family="&#39;Liberation Sans&#39;, sans-serif" text-rendering="geometricPrecision" textLength="31.5" lengthAdjust="spacingAndGlyphs">1.28360</text>
<text x="731.5" y="259" font-size="10" fill="#000" stroke="#000" stroke-width="0.1" font-family="&#39;Liberation Sans&#39;, sans-serif" text-rendering="geometricPrecision" textLength="31.5" lengthAdjust="spacingAndGlyphs">1.28295</text>
<text x="731.5" y="293" font-size="10" fill="#000" stroke="#000" stroke-width="0.1" font-family="&#39;Liberation Sans&#39;, sans-serif" text-rendering="geometricPrecision" textLength="31.5" lengthAdjust="spacingAndGlyphs">1.28225</text>
<text x="731.5" y="328" font-size="10" fill="#000" stroke="#000" stroke-width="0.1" font-family="&#39;Liberation Sans&#39;, sans-serif" text-rendering="geometricPrecision" textLength="31.5" lengthAdjust="spacingAndGlyphs">1.28155</text>
<text x="731.5" y="363" font-size="10" fill="#000" stroke="#000" stroke-width="0.1" font-family="&#39;Liberation Sans&#39;, sans-serif" text-rendering="geometricPrecision" textLength="31.5" lengthAdjust="spacingAndGlyphs">1.28085</text>
<rect x="727" y="106" width="41" height="11" fill="#000" shape-rendering="crispEdges"/>
<text x="731.5" y="115" font-size="10" fill="#fff" stroke="#fff" stroke-width="0.1" font-family="&#39;Liberation Sans&#39;, sans-serif" text-rendering="geometricPrecision" textLength="31.5" lengthAdjust="spacingAndGlyphs">1.28584</text>
<text x="7" y="377" font-size="10" fill="#000" stroke="#000" stroke-width="0.1" font-family="&#39;Liberation Sans&#39;, sans-serif" text-rendering="geometricPrecision" textLength="67.5" lengthAdjust="spacingAndGlyphs">RSI(14) 60.0896</text>
<text x="7.5" y="426" font-size="10" fill="#000" stroke="#000" stroke-width="0.1" font-family="&#39;Liberation Sans&#39;, sans-serif" text-rendering="geometricPrecision" textLength="112.5" lengthAdjust="spacingAndGlyphs">Sto(5,3,3) 72.3744 45.3148</text>
<text x="729" y="375" font-size="10" fill="#000" stroke="#000" stroke-width="0.1" font-family="&#39;Liberation Sans&#39;, sans-serif" text-rendering="geometricPrecision" textLength="14.6" lengthAdjust="spacingAndGlyphs">100</text>
<text x="728.5" y="383" font-size="10" fill="#000" stroke="#000" stroke-width="0.1" font-family="&#39;Liberation Sans&#39;, sans-serif" text-rendering="geometricPrecision" textLength="9.4" lengthAdjust="spacingAndGlyphs">70</text>
<text x="728.5" y="401" font-size="10" fill="#000" stroke="#000" stroke-width="0.1" font-family="&#39;Liberation Sans&#39;, sans-serif" text-rendering="geometricPrecision" textLength="9.4" lengthAdjust="spacingAndGlyphs">30</text>
<text x="728.5" y="408" font-size="10" fill="#000" stroke="#000" stroke-width="0.1" font-family="&#39;Liberation Sans&#39;, sans-serif" text-rendering="geometricPrecision" textLength="4.7" lengthAdjust="spacingAndGlyphs">0</text>
<text x="729" y="424" font-size="10" fill="#000" stroke="#000" stroke-width="0.1" font-family="&#39;Liberation Sans&#39;, sans-serif" text-rendering="geometricPrecision" textLength="14.6" lengthAdjust="spacingAndGlyphs">100</text>
<text x="728.5" y="427" font-size="10" fill="#000" stroke="#000" stroke-width="0.1" font-family="&#39;Liberation Sans&#39;, sans-serif" text-rendering="geometricPrecision" textLength="9.4" lengthAdjust="spacingAndGlyphs">80</text>
<text x="728.5" y="454" font-size="10" fill="#000" stroke="#000" stroke-width="0.1" font-family="&#39;Liberation Sans&#39;, sans-serif" text-rendering="geometricPrecision" textLength="9.4" lengthAdjust="spacingAndGlyphs">20</text>
<text x="728.5" y="457" font-size="10" fill="#000" stroke="#000" stroke-width="0.1" font-family="&#39;Liberation Sans&#39;, sans-serif" text-rendering="geometricPrecision" textLength="4.7" lengthAdjust="spacingAndGlyphs">0</text>
<text x="2.25" y="472" font-size="10" fill="#000" stroke="#000" stroke-width="0.1" font-family="&#39;Liberation Sans&#39;, sans-serif" text-rendering="geometricPrecision" textLength="46.5" lengthAdjust="spacingAndGlyphs">4 Sep 2018</text>
<text x="66" y="472" font-size="10" fill="#000" stroke="#000" stroke-width="0.1" font-family="&#39;Liberation Sans&#39;, sans-serif" text-rendering="geometricPrecision" textLength="49.6" lengthAdjust="spacingAndGlyphs">4 Sep 02:00</text>
<text x="130" y="472" font-size="10" fill="#000" stroke="#000" stroke-width="0.1" font-family="&#39;Liberation Sans&#39;, sans-serif" text-rendering="geometricPrecision" textLength="49.6" lengthAdjust="spacingAndGlyphs">4 Sep 04:00</text>
<text x="194" y="472" font-size="10" fill="#000" stroke="#000" stroke-width="0.1" font-family="&#39;Liberation Sans&#39;, sans-serif" text-rendering="geometricPrecision" textLength="49.6" lengthAdjust="spacingAndGlyphs">4 Sep 06:00</text>
<text x="258" y="472" font-size="10" fill="#000" stroke="#000" stroke-width="0.1" font-family="&#39;Liberation Sans&#39;, sans-serif" text-rendering="geometricPrecision" textLength="49.6" lengthAdjust="spacingAndGlyphs">4 Sep 08:00</text>
<text x="322" y="472" font-size="10" fill="#000" stroke="#000" stroke-width="0.1" font-family="&#39;Liberation Sans&#39;, sans-serif" text-rendering="geometricPrecision" textLength="49.6" lengthAdjust="spacingAndGlyphs">4 Sep 10:00</text>
<text x="386" y="472" font-size="10" fill="#000" stroke="#000" stroke-width="0.1" font-family="&#39;Liberation Sans&#39;, sans-serif" text-rendering="geometricPrecision" textLength="49.6" lengthAdjust="spacingAndGlyphs">4 Sep 12:00</text>
<text x="450" y="472" font-size="10" fill="#000" stroke="#000" stroke-width="0.1" font-family="&#39;Liberation Sans&#39;, sans-serif" text-rendering="geometricPrecision" textLength="49.6" lengthAdjust="spacingAndGlyphs">4 Sep 14:00</text>
<text x="514" y="472" font-size="10" fill="#000" stroke="#000" stroke-width="0.1" font-family="&#39;Liberation Sans&#39;, sans-serif" text-rendering="geometricPrecision" textLength="49.6" lengthAdjust="spacingAndGlyphs">4 Sep 16:00</text>
<text x="578" y="472" font-size="10" fill="#000" stroke="#000" stroke-width="0.1" font-family="&#39;Liberation Sans&#39;, sans-serif" text-rendering="geometricPrecision" textLength="49.6" lengthAdjust="spacingAndGlyphs">4 Sep 18:00</text>
<text x="642" y="472" font-size="10" fill="#000" stroke="#000" stroke-width="0.1" font-family="&#39;Liberation Sans&#39;, sans-serif" text-rendering="geometricPrecision" textLength="49.6" lengthAdjust="spacingAndGlyphs">4 Sep 20:00</text>
<text x="706" y="472" font-size="10" fill="#000" stroke="#000" stroke-width="0.1" font-family="&#39;Liberation Sans&#39;, sans-serif" text-rendering="geometricPrecision" textLength="49.6" lengthAdjust="spacingAndGlyphs">4 Sep 22:00</text>
<g fill="none" stroke="#000" stroke-width="1">
<circle cx="714.5" cy="12.5" r="5.2"/>
<path d="M711.8,13.6 q2.7,2.6 5.4,0"/>
</g>
<rect x="712" y="10" width="1" height="2" fill="#000"/><rect x="716" y="10" width="1" height="2" fill="#000"/>
</svg>
</body></html>
